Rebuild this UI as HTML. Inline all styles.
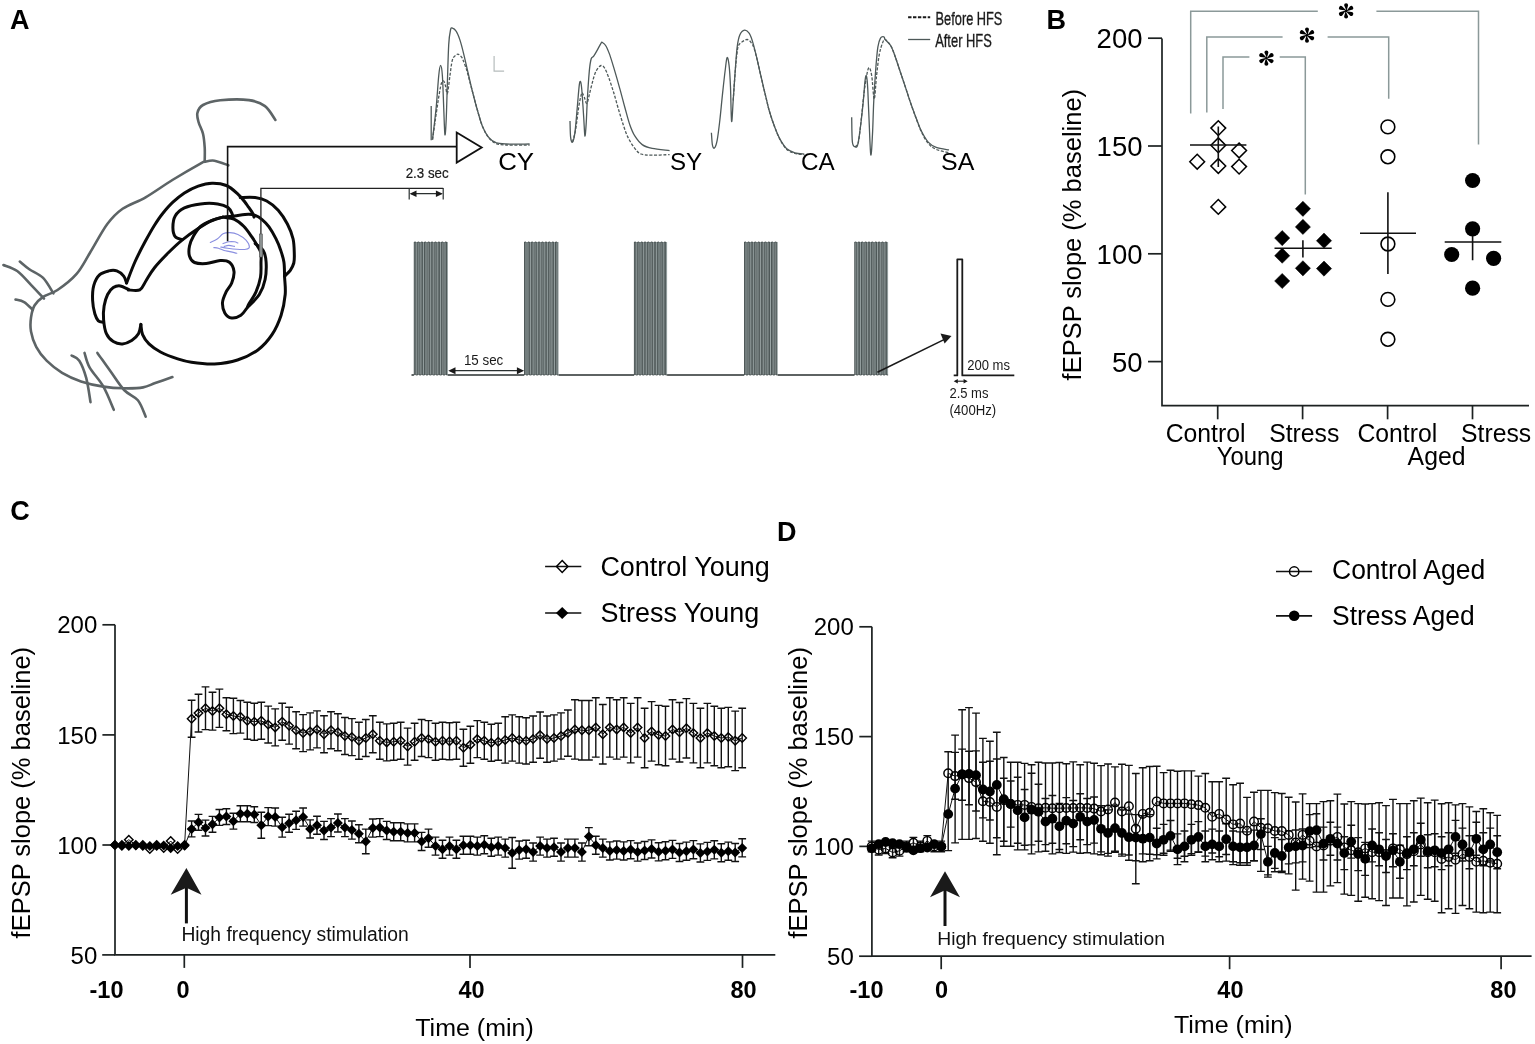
<!DOCTYPE html><html><head><meta charset="utf-8"><title>Figure</title><style>html,body{margin:0;padding:0;background:#fff;}svg{display:block;}text{font-family:"Liberation Sans",Arial,sans-serif;}</style></head><body>
<svg width="1535" height="1044" viewBox="0 0 1535 1044">
<rect width="1535" height="1044" fill="#fff"/>
<text x="10" y="28.9" font-size="27" font-weight="bold">A</text>
<text x="1046.4" y="28.9" font-size="27" font-weight="bold">B</text>
<text x="10.2" y="519.6" font-size="27" font-weight="bold">C</text>
<text x="777" y="541.2" font-size="27" font-weight="bold">D</text>
<path d="M204.7,161.3 C204.7,159 205,152.1 204.7,147.5 C204.4,142.9 204,137.9 203,133.7 C202,129.5 199.5,125.7 198.6,122.2 C197.7,118.8 196.7,115.9 197.4,113 C198.1,110.1 199.2,107.1 203,105 C206.8,102.9 212.5,101.1 220.2,100.3 C227.9,99.5 241.5,99.1 249,100.1 C256.5,101.1 260.6,102.8 265,106.1 C269.4,109.4 273.7,117.6 275.4,119.9" fill="none" stroke="#5d6466" stroke-width="2.6" stroke-linecap="round" stroke-linejoin="round"/>
<path d="M228.3,165.3 C226,164.5 218.4,161.3 214.5,160.7 C210.6,160.1 207.1,161.3 204.7,161.8 C202.3,162.3 205.4,160.8 200,163.8 C194.6,166.8 181.5,174.4 172.4,180 C163.3,185.6 153.9,192.5 145.6,197.3 C137.3,202.1 129,204.3 122.6,208.8 C116.2,213.3 112.7,216.8 107.3,224.1 C101.9,231.4 95.1,244.5 90,252.8 C84.9,261.1 82,267.7 76.6,273.9 C71.2,280.1 63.1,286.2 57.5,290 C51.9,293.8 46.9,294.3 43.1,296.9 C39.3,299.5 36.5,302.1 34.5,305.5 C32.5,308.9 31.6,313.3 31,317.6 C30.4,321.9 30.1,326.5 31,331.4 C31.9,336.3 33.6,342 36.2,346.9 C38.8,351.8 42.3,356.4 46.6,360.7 C50.9,365 56.4,369.4 62.1,372.8 C67.8,376.2 74.1,379.1 81,381.4 C87.9,383.7 96.2,385.5 103.4,386.6 C110.6,387.8 117.5,388.2 124.1,388.3 C130.7,388.4 137.9,388.3 143.1,387.4 C148.3,386.5 150.3,384.8 155.2,383.1 C160.1,381.4 169.5,378.1 172.4,377.1" fill="none" stroke="#5d6466" stroke-width="2.6" stroke-linecap="round" stroke-linejoin="round"/>
<path d="M3.4,265 C5.7,266 12.6,267.7 17.2,271 C21.8,274.3 26.5,280.2 31,284.8 C35.5,289.4 41.8,296.3 44,298.6" fill="none" stroke="#5d6466" stroke-width="2.6" stroke-linecap="round" stroke-linejoin="round"/>
<path d="M19.8,261.6 C21.4,262.9 25.4,266.6 29.3,269.3 C33.2,272 39.1,273.9 43.1,277.9 C47.1,281.9 51.7,290.8 53.4,293.4" fill="none" stroke="#5d6466" stroke-width="2.6" stroke-linecap="round" stroke-linejoin="round"/>
<path d="M15.5,299.5 C16.9,299.9 21.2,300.4 24.1,302.1 C27,303.8 31.3,308.5 32.8,309.8" fill="none" stroke="#5d6466" stroke-width="2.6" stroke-linecap="round" stroke-linejoin="round"/>
<path d="M71.6,355.5 C72.9,356.4 76.9,357 79.3,360.7 C81.7,364.4 84.3,371 86.2,377.9 C88.1,384.8 89.8,398.1 90.5,402.1" fill="none" stroke="#5d6466" stroke-width="2.6" stroke-linecap="round" stroke-linejoin="round"/>
<path d="M84.5,352.9 C85.4,355.3 86.5,362 89.7,367.6 C92.9,373.2 99.4,379.6 103.4,386.6 C107.4,393.6 112.1,405.9 113.8,409.8" fill="none" stroke="#5d6466" stroke-width="2.6" stroke-linecap="round" stroke-linejoin="round"/>
<path d="M97.4,352.9 C99.6,355.9 105.8,364.8 110.3,371 C114.8,377.2 119.5,385.1 124.1,390 C128.7,394.9 134.3,395.9 137.9,400.3 C141.5,404.8 144.4,414 145.7,416.7" fill="none" stroke="#5d6466" stroke-width="2.6" stroke-linecap="round" stroke-linejoin="round"/>
<path d="M126.6,283 C128,279.5 131.8,268.9 134.9,262 C138,255.1 142,247.4 145.3,241.3 C148.6,235.2 151.6,229.8 154.5,225.2 C157.4,220.6 159.4,217.5 162.5,213.7 C165.6,209.9 169.2,205.6 172.9,202.2 C176.6,198.8 180.2,195.7 184.4,193 C188.6,190.3 193.6,187.7 198.2,186.1 C202.8,184.5 207.3,183.3 212,183.2 C216.7,183.1 222.1,183.7 226.4,185.5 C230.7,187.3 234.9,191.4 237.9,194.1 C240.9,196.8 242.8,199.4 244.5,201.5 C246.2,203.6 246.9,204.8 248.3,206.8 C249.7,208.8 252,212 252.9,213.7 C253.8,215.4 253.8,216.5 254,217.1" fill="none" stroke="#0a0a0a" stroke-width="3.0" stroke-linecap="round" stroke-linejoin="round"/>
<path d="M126.6,283 C126.1,281.9 125.3,278.1 123.7,276.1 C122.1,274.1 119.3,271.8 116.8,270.9 C114.3,270 111.6,270.2 108.7,270.9 C105.8,271.6 102,272.5 99.5,274.9 C97,277.3 95,281.1 93.8,285.3 C92.6,289.5 92.4,295.4 92.6,300.2 C92.8,305 93.9,310.6 94.9,314 C95.9,317.4 97.2,319.5 98.4,320.9 C99.7,322.2 101.7,321.9 102.4,322.1" fill="none" stroke="#0a0a0a" stroke-width="3.0" stroke-linecap="round" stroke-linejoin="round"/>
<path d="M128.5,289.5 C127.1,288.9 122.7,286.2 120.2,285.9 C117.7,285.6 115.4,286.2 113.3,287.6 C111.2,289 109.1,291.4 107.6,294.5 C106.1,297.6 104.8,301.8 104.1,306 C103.4,310.2 103.2,315.2 103.6,319.8 C104,324.4 104.8,330 106.4,333.6 C108,337.2 110.6,339.9 113.3,341.6 C116,343.3 119.4,344.1 122.5,343.9 C125.6,343.7 129,342.2 131.7,340.5 C134.4,338.8 137.1,336.3 138.6,333.6 C140.1,330.9 140.5,325.9 140.9,324.4" fill="none" stroke="#0a0a0a" stroke-width="3.0" stroke-linecap="round" stroke-linejoin="round"/>
<path d="M140.9,324.4 C141.2,326.1 141.2,331.4 142.6,334.7 C143.9,337.9 146,341 149,343.9 C152,346.8 155.7,349.5 160.5,352 C165.3,354.5 172.5,357.2 177.7,358.9 C182.9,360.6 185.4,361.4 191.5,362.3 C197.6,363.2 206.8,364.4 214.5,364 C222.2,363.6 230.2,362.4 237.5,360 C244.8,357.6 252.4,353.9 258.2,349.7 C263.9,345.5 268.2,340.4 272,334.7 C275.8,328.9 278.9,321.9 281.1,315.2 C283.3,308.5 284.6,300.8 285.2,294.5 C285.8,288.2 284.8,282.6 284.6,277.2 C284.4,271.8 284.6,266.6 283.9,262 C283.2,257.4 281.8,253.6 280.5,249.7 C279.2,245.8 277.8,242.5 275.9,238.7 C274,234.9 271.3,230.1 269,226.9 C266.7,223.7 264.4,221.5 262.1,219.6 C259.8,217.7 257.5,216.3 255.2,215.4 C252.9,214.5 251.8,214.2 248.3,214.3 C244.9,214.4 238.7,215.5 234.5,216 C230.3,216.5 226.8,216.3 223,217.1 C219.2,217.9 215.6,218.7 211.5,220.6 C207.4,222.5 203.1,225.3 198.2,228.6 C193.3,231.8 187.1,236.1 182.1,240.1 C177.1,244.1 172.9,248.2 168.3,252.8 C163.7,257.4 158.2,263.1 154.5,267.7 C150.8,272.3 148.4,277 146,280.7 C143.6,284.4 142.8,288.4 139.8,289.9 C136.9,291.4 130.2,289.9 128.3,289.9" fill="none" stroke="#0a0a0a" stroke-width="3.0" stroke-linecap="round" stroke-linejoin="round"/>
<path d="M182.1,239.5 C180.9,239 176.7,238.7 175.2,236.7 C173.7,234.7 172.9,230.9 172.9,227.5 C172.9,224.1 173.3,219.3 175.2,216 C177.1,212.7 180.2,209.9 184.4,207.9 C188.6,205.9 194.9,204.6 200.5,203.9 C206.1,203.2 213.1,203.3 217.7,203.9 C222.3,204.5 225.6,205.8 228,207.5 C230.4,209.2 231.4,212.2 232.2,214 C233,215.8 232.9,217.3 233,218" fill="none" stroke="#0a0a0a" stroke-width="3.0" stroke-linecap="round" stroke-linejoin="round"/>
<path d="M240.2,197.6 C242.7,197.6 250.8,197 255.2,197.6 C259.6,198.2 262.9,198.9 266.7,201 C270.5,203.1 274.8,206.4 278.2,210.2 C281.6,214 284.9,219.2 287.4,224 C289.9,228.8 292,234 293.1,239 C294.2,244 294.2,249.9 294.3,253.9 C294.4,257.9 294.5,260.3 293.8,263 C293.1,265.7 291.8,268.1 290.3,270.3 C288.8,272.5 285.6,275.1 284.6,276.1" fill="none" stroke="#0a0a0a" stroke-width="3.0" stroke-linecap="round" stroke-linejoin="round"/>
<path d="M223,217.1 C221.2,217.7 215.8,218.9 212,220.5 C208.2,222.1 203.6,223.9 200.5,226.5 C197.4,229.1 195.3,232.8 193.5,236 C191.7,239.2 190.2,242.6 189.5,246 C188.8,249.4 188.7,253.4 189.5,256.2 C190.3,258.9 191.7,261.3 194.5,262.5 C197.3,263.7 201.9,263.9 206.2,263.6 C210.5,263.3 216.3,260.8 220.2,260.6 C224.1,260.4 227.1,260.5 229.4,262.3 C231.7,264.1 233.6,268.1 234,271.5 C234.4,274.9 233,279.6 231.7,283 C230.4,286.4 227.5,288.9 226,292.2 C224.5,295.4 222.7,299.1 222.5,302.5 C222.3,305.9 223.3,310.3 224.8,312.9 C226.3,315.5 229,317.6 231.7,318 C234.4,318.4 238.4,316.8 240.9,315.2 C243.4,313.6 245.3,310.2 246.7,308.3 C248,306.4 247.5,306.4 249,303.7 C250.5,301 254,296.6 255.9,292.2 C257.8,287.8 259.6,282.2 260.5,277.2 C261.4,272.2 260.9,266.1 261,262 C261.1,257.9 261.5,255.5 260.9,252.8 C260.3,250.1 259,248.6 257.5,245.9 C256,243.2 254,240 251.7,236.7 C249.4,233.4 246.6,229.2 243.7,226.3 C240.8,223.4 237.9,220.9 234.5,219.4 C231.1,217.9 224.9,217.5 223,217.1" fill="none" stroke="#0a0a0a" stroke-width="3.0" stroke-linecap="round" stroke-linejoin="round"/>
<path d="M247.8,307.1 C249.7,305 256.4,299.1 259.3,294.5 C262.2,289.9 264,284.9 265.1,279.5 C266.2,274.1 266.4,266.8 266.1,262 C265.8,257.2 265,253.6 263.2,250.5 C261.4,247.4 256.5,244.8 255.2,243.6" fill="none" stroke="#0a0a0a" stroke-width="3.0" stroke-linecap="round" stroke-linejoin="round"/>
<path d="M210.3,242.4 C211.5,241.8 215.1,240.4 217.2,239 C219.3,237.6 220.9,234.9 223,233.8 C225.1,232.7 227.4,232.5 229.9,232.6 C232.4,232.7 235.2,233.2 237.9,234.4 C240.6,235.7 244.1,238 246,240.1 C247.9,242.2 249.4,245.5 249.4,247 C249.4,248.5 248.1,248.9 246,249.3 C243.9,249.7 239.9,249.5 236.8,249.3 C233.7,249.1 230.3,248.6 227.6,248.2 C224.9,247.8 221.8,247.2 220.7,247" fill="none" stroke="#8a8fe0" stroke-width="1.1" stroke-linecap="round"/>
<path d="M213.8,247.6 C214.6,247.7 216.7,247.7 218.4,248.2 C220.1,248.7 222.2,249.9 224.1,250.5 C226,251.1 227.8,251.1 229.9,251.6 C232,252.1 235.7,253 236.8,253.3" fill="none" stroke="#8a8fe0" stroke-width="1.1" stroke-linecap="round"/>
<path d="M224.1,246.4 C224.9,246.2 227,245.4 228.7,245.4 C230.4,245.4 233.5,246.2 234.5,246.4" fill="none" stroke="#8a8fe0" stroke-width="1.1" stroke-linecap="round"/>
<path d="M223,243.6 C223.9,243.3 226.8,242.1 228.7,241.8 C230.6,241.5 233,241.6 234.5,241.8 C236,242 237.3,242.8 237.9,243" fill="none" stroke="#8a8fe0" stroke-width="1.1" stroke-linecap="round"/>
<path d="M227.6,241.3 V146.6 H470" fill="none" stroke="#111" stroke-width="1.6"/>
<path d="M260.9,234 V188.3 H443.2" fill="none" stroke="#222" stroke-width="1.3"/>
<rect x="259.4" y="234" width="3" height="23" fill="#8a9090" stroke="#555" stroke-width="0.6"/>
<path d="M456.7,132.5 L481.7,147.6 L456.7,162.6 Z" fill="#fff" stroke="#111" stroke-width="1.8" stroke-linejoin="miter"/>
<path d="M431.2,106 C431.2,111.7 431.2,134.5 431.2,140.2" fill="none" stroke="#4e5959" stroke-width="1.3" stroke-linejoin="round"/>
<path d="M432.5,139.6 C433.1,134.2 435.2,117.8 436.2,107.2 C437.2,96.6 438,83 438.7,76 C439.4,69 440,65.5 440.6,65.5 C441.2,65.5 441.9,69 442.4,76 C442.9,83 443.3,97.4 443.7,107.2 C444.1,117 444.5,132.5 444.9,134.6 C445.3,136.7 445.8,128.4 446.2,119.7 C446.6,111 447,94.8 447.4,82.3 C447.8,69.8 448.2,53.6 448.7,44.9 C449.2,36.2 449.9,32.8 450.5,30 C451.1,27.2 451.5,27.9 452.4,28.1 C453.3,28.3 454.9,29.2 456.1,31.2 C457.4,33.2 458.6,36.2 459.9,39.9 C461.1,43.6 462.4,48.6 463.6,53.6 C464.9,58.6 465.9,63.6 467.4,69.8 C468.8,76 470.6,84.3 472.3,91 C474,97.7 475.6,103.9 477.3,109.7 C479,115.5 480.4,121.3 482.3,125.9 C484.2,130.5 486.2,134.3 488.5,137.1 C490.8,139.9 493.1,141.5 496,142.7 C498.9,143.8 500.4,143.8 506,144 C511.6,144.2 525.7,144 529.6,144" fill="none" stroke="#4e5959" stroke-width="1.3" stroke-linejoin="round"/>
<path d="M432.5,139.6 C432.9,136.7 434.1,128.6 435,122.2 C435.9,115.8 437.1,107.4 438.1,101 C439.1,94.6 440.3,87.3 441.2,84 C442.1,80.7 443,80.7 443.7,81 C444.4,81.3 444.9,83.9 445.5,86 C446.1,88.1 446.7,95.2 447.4,93.5 C448.1,91.8 449.1,81.6 449.9,76 C450.7,70.4 451.4,63.4 452.4,59.9 C453.4,56.4 455.1,55.8 456.1,54.9 C457.1,54 457.7,53.9 458.6,54.3 C459.6,54.7 461.1,56.5 461.8,57.4 C462.5,58.3 462.5,58.7 463,59.9 C463.5,61.1 464.2,62.7 464.9,64.8 C465.6,66.9 466.2,68.1 467.4,72.5 C468.6,76.9 470.6,84.8 472.3,91 C474,97.2 475.6,103.9 477.3,109.7 C479,115.5 480.4,121.3 482.3,125.9 C484.2,130.5 486.2,134.6 488.5,137.5 C490.8,140.4 493.1,142.2 496,143.5 C498.9,144.8 500.4,144.7 506,145 C511.6,145.3 525.7,145.2 529.6,145.2" fill="none" stroke="#4e5959" stroke-width="1.3" stroke-dasharray="3,1.6" stroke-linejoin="round"/>
<path d="M494.1,56.1 V71.1 H504.1" fill="none" stroke="#b5bcbc" stroke-width="1.2"/>
<path d="M570,120.9 C570.1,123.6 570.2,133.6 570.6,137.1 C571,140.6 571.8,142.9 572.5,142.1 C573.2,141.3 574.2,138.4 575,132.2 C575.8,126 576.8,112.6 577.5,104.7 C578.2,96.8 578.8,88.6 579.3,84.8 C579.8,81 580.2,80.9 580.6,81.7 C581,82.5 581.3,83.9 581.8,89.8 C582.3,95.7 583.2,109.5 583.7,117.2 C584.2,124.9 584.5,134.9 584.9,135.9 C585.3,136.9 585.8,129.6 586.2,123.4 C586.6,117.2 586.9,107.2 587.4,98.5 C587.9,89.8 588.7,77.7 589.3,71.1 C589.9,64.5 590.5,61.2 591.2,58.7 C591.9,56.2 592.7,57.7 593.7,56.2 C594.7,54.7 596.2,52.1 597.4,49.9 C598.6,47.7 600.3,44.3 601.1,43.1 C601.9,41.9 601.6,42 602.4,42.5 C603.2,43 604.9,44.1 606.1,46.2 C607.3,48.3 608.3,50.8 609.8,54.9 C611.2,59 613.1,65.5 614.8,71.1 C616.5,76.7 618.1,82.6 619.8,88.6 C621.5,94.6 623.1,101.2 624.8,107.2 C626.5,113.2 628.1,119.9 629.8,124.7 C631.5,129.5 632.7,132.6 634.8,135.9 C636.9,139.2 639.3,142.5 642.2,144.6 C645.1,146.7 647.6,147.4 652.2,148.4 C656.8,149.4 666.7,150.2 669.6,150.6" fill="none" stroke="#4e5959" stroke-width="1.3" stroke-linejoin="round"/>
<path d="M572.5,142.1 C573,140 574.6,135.5 575.6,129.7 C576.6,123.9 577.8,113 578.7,107.2 C579.6,101.4 580.6,97.2 581.2,94.8 C581.8,92.4 581.9,92.5 582.4,92.9 C582.9,93.3 583.6,95.5 584.3,97.3 C585,99.1 586,103.9 586.8,103.5 C587.6,103.1 588.4,98.3 589.3,94.8 C590.2,91.3 591.3,86.2 592.4,82.3 C593.5,78.3 594.6,73.9 596.1,71.1 C597.6,68.3 599.6,65.9 601.1,65.5 C602.6,65.1 603.6,66.6 604.9,68.6 C606.1,70.6 607.1,73.3 608.6,77.3 C610.1,81.2 611.9,86.9 613.6,92.3 C615.3,97.7 616.9,104.1 618.6,109.7 C620.3,115.3 622,121.1 623.6,125.9 C625.2,130.7 626.6,134.7 628.5,138.4 C630.4,142.2 632.7,145.8 634.8,148.4 C636.9,151 638.1,152.9 641,154 C643.9,155.1 647.4,155.1 652.2,155.2 C657,155.3 666.7,154.7 669.6,154.6" fill="none" stroke="#4e5959" stroke-width="1.3" stroke-dasharray="3,1.6" stroke-linejoin="round"/>
<path d="M711.4,132.7 C711.6,134.7 711.9,142.2 712.4,144.8 C712.9,147.4 713.6,148.8 714.4,148.1 C715.2,147.4 716.2,145.3 717.1,140.7 C718,136.1 718.9,128.2 719.8,120.6 C720.7,113 721.5,103.4 722.4,95.1 C723.3,86.8 724.3,77.2 725.1,71 C725.9,64.8 726.4,58.5 727.1,57.6 C727.8,56.7 728.5,60.7 729.1,65.6 C729.7,70.5 730.1,77.8 730.5,87.1 C730.9,96.4 731.1,119.1 731.6,121.3 C732.1,123.5 732.6,108.9 733.2,100.5 C733.8,92.1 734.5,80 735.2,71 C735.9,62 736.4,52.8 737.2,46.8 C738,40.8 738.7,37.6 739.9,34.8 C741.1,32 743,30.3 744.6,30.1 C746.2,29.9 747.8,31.1 749.3,33.4 C750.8,35.7 752,39.6 753.3,44.1 C754.6,48.6 756,54.6 757.3,60.2 C758.6,65.8 759.9,71.9 761.3,77.7 C762.6,83.5 764,89.5 765.4,95.1 C766.8,100.7 767.8,105.8 769.4,111.2 C771,116.6 773,122.6 774.8,127.3 C776.6,132 778.1,135.8 780.1,139.4 C782.1,143 784.3,146.6 786.8,148.8 C789.3,151 792,151.9 794.9,152.8 C797.8,153.7 802.7,153.9 804.3,154.1" fill="none" stroke="#4e5959" stroke-width="1.3" stroke-linejoin="round"/>
<path d="M733.2,100.5 C733.5,95.8 734.6,79.6 735.2,72 C735.8,64.4 736.2,59.4 736.8,55 C737.3,50.6 737.5,47.8 738.5,45.5 C739.5,43.2 741.1,42.5 742.6,41.5 C744.1,40.5 745.8,39.3 747.3,39.5 C748.8,39.7 750.2,41.3 751.3,42.8 C752.4,44.2 753,45.3 754,48.2 C755,51.1 756.1,55.3 757.3,60.2 C758.5,65.1 759.9,71.9 761.3,77.7 C762.6,83.5 764,89.5 765.4,95.1 C766.8,100.7 767.8,105.8 769.4,111.2 C771,116.6 773,122.5 774.8,127.3 C776.6,132.1 778.1,136.1 780.1,139.8 C782.1,143.5 784.3,147.1 786.8,149.4 C789.3,151.7 792,152.6 794.9,153.5 C797.8,154.4 802.7,154.4 804.3,154.6" fill="none" stroke="#4e5959" stroke-width="1.3" stroke-dasharray="3,1.6" stroke-linejoin="round"/>
<path d="M851.7,117.3 C851.8,121.4 851.8,137.2 852.4,142.1 C853,147 854.2,146.4 855.1,146.8 C856,147.2 856.8,148.1 857.7,144.8 C858.6,141.6 859.5,134.2 860.4,127.3 C861.3,120.4 862.3,111 863.1,103.2 C863.9,95.4 864.5,84.9 865.1,80.4 C865.7,75.9 866,74.7 866.5,76.3 C867,77.9 867.4,82.4 867.8,89.8 C868.2,97.2 868.6,109.8 869.1,120.6 C869.6,131.4 870.2,152.6 870.8,154.8 C871.4,157 872,143.1 872.5,134 C873,125 873.2,111.7 873.8,100.5 C874.4,89.3 875.2,76 875.9,67 C876.6,58 877.1,51.6 877.9,46.8 C878.7,42 879.5,39.8 880.5,38.1 C881.5,36.4 883.1,36.6 883.9,36.8 C884.7,37 884.1,38 885.2,39.5 C886.3,41 889,42.9 890.6,45.5 C892.2,48.1 893,50.6 894.6,54.9 C896.2,59.1 898.2,65.6 900,71 C901.8,76.4 903.6,81.7 905.4,87.1 C907.2,92.5 908.9,98.1 910.7,103.2 C912.5,108.3 914.3,113.2 916.1,117.9 C917.9,122.6 919.5,127.3 921.5,131.3 C923.5,135.3 925.8,139.4 928.2,142.1 C930.7,144.8 932.7,146.1 936.2,147.4 C939.7,148.7 946.9,149.5 949,149.9" fill="none" stroke="#4e5959" stroke-width="1.3" stroke-linejoin="round"/>
<path d="M855.1,146.8 C855.6,146 857.4,146.5 858.4,142.1 C859.4,137.7 860.2,128.4 861.1,120.6 C862,112.8 862.9,102.5 863.8,95.1 C864.7,87.7 865.6,80.9 866.5,76.3 C867.4,71.7 868.2,67.6 869.1,67.6 C870,67.6 870.9,71 871.8,76.3 C872.6,81.5 873.4,99.1 874.2,99.1 C875,99.1 875.7,83.7 876.5,76.3 C877.3,68.9 878.2,60.5 879.2,54.9 C880.2,49.3 881.6,45.4 882.6,42.8 C883.6,40.2 883.9,39 885.2,39.5 C886.5,40 889,42.9 890.6,45.5 C892.2,48.1 893,50.6 894.6,54.9 C896.2,59.1 898.2,65.6 900,71 C901.8,76.4 903.6,81.7 905.4,87.1 C907.2,92.5 908.9,98 910.7,103.2 C912.5,108.4 914.3,113.5 916.1,118.3 C917.9,123.1 919.5,127.8 921.5,132 C923.5,136.2 925.8,140.6 928.2,143.5 C930.7,146.4 932.7,147.8 936.2,149.4 C939.7,151 946.9,152.2 949,152.8" fill="none" stroke="#4e5959" stroke-width="1.3" stroke-dasharray="3,1.6" stroke-linejoin="round"/>
<path d="M908.1,17.3 H930.2" stroke="#1a1a1a" stroke-width="1.9" stroke-dasharray="3.4,1.5"/>
<path d="M908.1,39.5 H930.2" stroke="#4e5959" stroke-width="1.3"/>
<text x="935.6" y="24.6" font-size="18.6" fill="#1a1a1a" textLength="66.8" lengthAdjust="spacingAndGlyphs" stroke="#1a1a1a" stroke-width="0.35">Before HFS</text>
<text x="935.2" y="46.6" font-size="18.6" fill="#1a1a1a" textLength="56.6" lengthAdjust="spacingAndGlyphs" stroke="#1a1a1a" stroke-width="0.35">After HFS</text>
<text x="498.2" y="170.4" font-size="24.6" textLength="35.9" lengthAdjust="spacingAndGlyphs">CY</text>
<text x="670" y="170.4" font-size="24.6" textLength="32.2" lengthAdjust="spacingAndGlyphs">SY</text>
<text x="801" y="170.4" font-size="24.6" textLength="33.7" lengthAdjust="spacingAndGlyphs">CA</text>
<text x="941" y="170.4" font-size="24.6" textLength="33.3" lengthAdjust="spacingAndGlyphs">SA</text>
<rect x="413.9" y="242" width="34.1" height="133" fill="#9aa5a5"/>
<path d="M413.9,375 L414.3,375 L414.3,242 L415.8,242 L415.8,375 L417.7,375 L417.7,242 L419.2,242 L419.2,375 L421.1,375 L421.1,242 L422.6,242 L422.6,375 L424.5,375 L424.5,242 L426,242 L426,375 L427.9,375 L427.9,242 L429.4,242 L429.4,375 L431.3,375 L431.3,242 L432.8,242 L432.8,375 L434.8,375 L434.8,242 L436.2,242 L436.2,375 L438.2,375 L438.2,242 L439.6,242 L439.6,375 L441.6,375 L441.6,242 L443.1,242 L443.1,375 L445,375 L445,242 L446.5,242 L446.5,375 L448,375" fill="none" stroke="#3b4444" stroke-width="0.8"/>
<rect x="524.1" y="242" width="34.5" height="133" fill="#9aa5a5"/>
<path d="M524.1,375 L524.5,375 L524.5,242 L526,242 L526,375 L528,375 L528,242 L529.4,242 L529.4,375 L531.4,375 L531.4,242 L532.9,242 L532.9,375 L534.9,375 L534.9,242 L536.3,242 L536.3,375 L538.3,375 L538.3,242 L539.8,242 L539.8,375 L541.8,375 L541.8,242 L543.2,242 L543.2,375 L545.2,375 L545.2,242 L546.7,242 L546.7,375 L548.6,375 L548.6,242 L550.1,242 L550.1,375 L552.1,375 L552.1,242 L553.6,242 L553.6,375 L555.5,375 L555.5,242 L557,242 L557,375 L558.6,375" fill="none" stroke="#3b4444" stroke-width="0.8"/>
<rect x="634" y="242" width="33.1" height="133" fill="#9aa5a5"/>
<path d="M634,375 L634.4,375 L634.4,242 L635.8,242 L635.8,375 L637.7,375 L637.7,242 L639.1,242 L639.1,375 L641,375 L641,242 L642.4,242 L642.4,375 L644.3,375 L644.3,242 L645.8,242 L645.8,375 L647.6,375 L647.6,242 L649.1,242 L649.1,375 L650.9,375 L650.9,242 L652.4,242 L652.4,375 L654.3,375 L654.3,242 L655.7,242 L655.7,375 L657.6,375 L657.6,242 L659,242 L659,375 L660.9,375 L660.9,242 L662.3,242 L662.3,375 L664.2,375 L664.2,242 L665.6,242 L665.6,375 L667.1,375" fill="none" stroke="#3b4444" stroke-width="0.8"/>
<rect x="744.1" y="242" width="33.7" height="133" fill="#9aa5a5"/>
<path d="M744.1,375 L744.5,375 L744.5,242 L746,242 L746,375 L747.9,375 L747.9,242 L749.3,242 L749.3,375 L751.2,375 L751.2,242 L752.7,242 L752.7,375 L754.6,375 L754.6,242 L756.1,242 L756.1,375 L758,375 L758,242 L759.4,242 L759.4,375 L761.4,375 L761.4,242 L762.8,242 L762.8,375 L764.7,375 L764.7,242 L766.2,242 L766.2,375 L768.1,375 L768.1,242 L769.5,242 L769.5,375 L771.5,375 L771.5,242 L772.9,242 L772.9,375 L774.8,375 L774.8,242 L776.3,242 L776.3,375 L777.8,375" fill="none" stroke="#3b4444" stroke-width="0.8"/>
<rect x="854.4" y="242" width="33.7" height="133" fill="#9aa5a5"/>
<path d="M854.4,375 L854.8,375 L854.8,242 L856.3,242 L856.3,375 L858.2,375 L858.2,242 L859.6,242 L859.6,375 L861.5,375 L861.5,242 L863,242 L863,375 L864.9,375 L864.9,242 L866.4,242 L866.4,375 L868.3,375 L868.3,242 L869.7,242 L869.7,375 L871.6,375 L871.6,242 L873.1,242 L873.1,375 L875,375 L875,242 L876.5,242 L876.5,375 L878.4,375 L878.4,242 L879.8,242 L879.8,375 L881.8,375 L881.8,242 L883.2,242 L883.2,375 L885.1,375 L885.1,242 L886.6,242 L886.6,375 L888.1,375" fill="none" stroke="#3b4444" stroke-width="0.8"/>
<path d="M411.5,375 H413.9 M448,375 H524.1 M558.6,375 H634 M667.1,375 H744.1 M777.8,375 H854.4" stroke="#2a3030" stroke-width="1.5"/>
<path d="M450,370.7 H522" stroke="#2a3030" stroke-width="1.2"/>
<path d="M448.3,370.7 L455.5,367.2 L455.5,374.2 Z M524.1,370.7 L516.9,367.2 L516.9,374.2 Z" fill="#1a1a1a"/>
<text x="463.9" y="365.4" font-size="14.5" fill="#1a1a1a" textLength="39.4" lengthAdjust="spacingAndGlyphs">15 sec</text>
<path d="M409.2,188 V199.4 M443.2,188 V199.4 M411,193.7 H441.5" stroke="#2a3030" stroke-width="1.2"/>
<path d="M409.6,193.7 L416.5,190.4 L416.5,197 Z M442.8,193.7 L435.9,190.4 L435.9,197 Z" fill="#1a1a1a"/>
<text x="405.7" y="178.2" font-size="15" fill="#1a1a1a" textLength="43" lengthAdjust="spacingAndGlyphs" stroke="#1a1a1a" stroke-width="0.2">2.3 sec</text>
<path d="M953.7,375.4 H957.3 V259.3 H962.3 V375.4 H1014.3" fill="none" stroke="#1a1a1a" stroke-width="1.8" stroke-linejoin="round"/>
<path d="M877.4,372.2 L944,339.6" stroke="#1a1a1a" stroke-width="1.6"/>
<path d="M951.5,336.1 L940.5,333.6 L944.6,343.6 Z" fill="#1a1a1a"/>
<text x="967.2" y="369.8" font-size="14.5" fill="#1a1a1a" textLength="42.8" lengthAdjust="spacingAndGlyphs">200 ms</text>
<path d="M955.5,381.2 H966" stroke="#1a1a1a" stroke-width="1.1"/>
<path d="M953.7,381.2 L957.8,378.9 L957.8,383.5 Z M967.7,381.2 L963.6,378.9 L963.6,383.5 Z" fill="#1a1a1a"/>
<text x="949.4" y="398" font-size="14.5" fill="#1a1a1a" textLength="39.1" lengthAdjust="spacingAndGlyphs">2.5 ms</text>
<text x="949.4" y="414.5" font-size="14.5" fill="#1a1a1a" textLength="46.8" lengthAdjust="spacingAndGlyphs">(400Hz)</text>
<path d="M1162,38.6 V405.6 H1529" fill="none" stroke="#1c2121" stroke-width="1.7"/>
<path d="M1148,38.2 H1162" stroke="#1c2121" stroke-width="1.7"/>
<text x="1142.5" y="48.1" font-size="27.5" text-anchor="end">200</text>
<path d="M1148,146 H1162" stroke="#1c2121" stroke-width="1.7"/>
<text x="1142.5" y="155.9" font-size="27.5" text-anchor="end">150</text>
<path d="M1148,253.8 H1162" stroke="#1c2121" stroke-width="1.7"/>
<text x="1142.5" y="263.7" font-size="27.5" text-anchor="end">100</text>
<path d="M1148,361.6 H1162" stroke="#1c2121" stroke-width="1.7"/>
<text x="1142.5" y="371.5" font-size="27.5" text-anchor="end">50</text>
<path d="M1217.7,405.6 V419.3" stroke="#1c2121" stroke-width="1.7"/>
<path d="M1302.6,405.6 V419.3" stroke="#1c2121" stroke-width="1.7"/>
<path d="M1387.6,405.6 V419.3" stroke="#1c2121" stroke-width="1.7"/>
<path d="M1472.5,405.6 V419.3" stroke="#1c2121" stroke-width="1.7"/>
<text x="1165.7" y="441.6" font-size="25" textLength="79.8" lengthAdjust="spacingAndGlyphs">Control</text>
<text x="1269.2" y="441.6" font-size="25" textLength="70.2" lengthAdjust="spacingAndGlyphs">Stress</text>
<text x="1357.4" y="441.6" font-size="25" textLength="79.8" lengthAdjust="spacingAndGlyphs">Control</text>
<text x="1461.1" y="441.6" font-size="25" textLength="70.1" lengthAdjust="spacingAndGlyphs">Stress</text>
<text x="1216.7" y="464.8" font-size="25" textLength="66.9" lengthAdjust="spacingAndGlyphs">Young</text>
<text x="1407.6" y="464.8" font-size="25" textLength="57.9" lengthAdjust="spacingAndGlyphs">Aged</text>
<text transform="translate(1080.9,380.4) rotate(-90)" font-size="25" textLength="291.5" lengthAdjust="spacingAndGlyphs">fEPSP slope (% baseline)</text>
<path d="M1190.7,113.4 V11.3 H1317.8 M1376.4,11.3 H1478.5 V144.4 M1206.8,112.4 V37.1 H1282.6 M1327.6,37.1 H1388.7 V98.7 M1223,109 V57.1 H1249.4 M1279.7,57.1 H1305.3 V194.5" fill="none" stroke="#8b9999" stroke-width="1.5"/>
<path d="M1346.6,10.9 L1348.1,5.3 A2,2 0 1 0 1344.1,5.3 Z M1346.3,10.5 L1342.3,6.4 A2,2 0 1 0 1340.3,9.8 Z M1345.8,10.5 L1340.3,12 A2,2 0 1 0 1342.3,15.4 Z M1345.6,10.9 L1344.1,16.5 A2,2 0 1 0 1348.1,16.5 Z M1345.8,11.3 L1349.9,15.4 A2,2 0 1 0 1351.9,12 Z M1346.3,11.3 L1351.9,9.8 A2,2 0 1 0 1349.9,6.4 Z " fill="#000"/>
<circle cx="1346.1" cy="10.9" r="1.2" fill="#000"/>
<path d="M1307.5,35.2 L1309,29.6 A2,2 0 1 0 1305,29.6 Z M1307.2,34.8 L1303.2,30.7 A2,2 0 1 0 1301.2,34.1 Z M1306.8,34.8 L1301.2,36.3 A2,2 0 1 0 1303.2,39.7 Z M1306.5,35.2 L1305,40.8 A2,2 0 1 0 1309,40.8 Z M1306.8,35.6 L1310.8,39.7 A2,2 0 1 0 1312.8,36.3 Z M1307.2,35.6 L1312.8,34.1 A2,2 0 1 0 1310.8,30.7 Z " fill="#000"/>
<circle cx="1307" cy="35.2" r="1.2" fill="#000"/>
<path d="M1266.9,58.1 L1268.4,52.5 A2,2 0 1 0 1264.4,52.5 Z M1266.7,57.7 L1262.6,53.6 A2,2 0 1 0 1260.6,57 Z M1266.2,57.7 L1260.6,59.2 A2,2 0 1 0 1262.6,62.6 Z M1265.9,58.1 L1264.4,63.7 A2,2 0 1 0 1268.4,63.7 Z M1266.2,58.5 L1270.2,62.6 A2,2 0 1 0 1272.2,59.2 Z M1266.7,58.5 L1272.2,57 A2,2 0 1 0 1270.2,53.6 Z " fill="#000"/>
<circle cx="1266.4" cy="58.1" r="1.2" fill="#000"/>
<path d="M1218.3,120.7 L1225.7,128.1 L1218.3,135.5 L1210.9,128.1 Z" fill="none" stroke="#000" stroke-width="1.5"/>
<path d="M1218.3,137.9 L1225.7,145.3 L1218.3,152.7 L1210.9,145.3 Z" fill="none" stroke="#000" stroke-width="1.5"/>
<path d="M1239.1,143.1 L1246.5,150.5 L1239.1,157.9 L1231.7,150.5 Z" fill="none" stroke="#000" stroke-width="1.5"/>
<path d="M1197.2,154.3 L1204.6,161.7 L1197.2,169.1 L1189.8,161.7 Z" fill="none" stroke="#000" stroke-width="1.5"/>
<path d="M1218.3,158.6 L1225.7,166 L1218.3,173.4 L1210.9,166 Z" fill="none" stroke="#000" stroke-width="1.5"/>
<path d="M1239.1,159.2 L1246.5,166.6 L1239.1,174 L1231.7,166.6 Z" fill="none" stroke="#000" stroke-width="1.5"/>
<path d="M1218.3,199.5 L1225.7,206.9 L1218.3,214.3 L1210.9,206.9 Z" fill="none" stroke="#000" stroke-width="1.5"/>
<path d="M1190,145 H1246.4 M1218.3,126.4 V166.9" stroke="#111" stroke-width="1.6"/>
<path d="M1302.9,201.2 L1310.5,208.8 L1302.9,216.4 L1295.3,208.8 Z" fill="#000" stroke="#000" stroke-width="0.5"/>
<path d="M1302.9,219.3 L1310.5,226.9 L1302.9,234.5 L1295.3,226.9 Z" fill="#000" stroke="#000" stroke-width="0.5"/>
<path d="M1282.2,230.5 L1289.8,238.1 L1282.2,245.7 L1274.6,238.1 Z" fill="#000" stroke="#000" stroke-width="0.5"/>
<path d="M1324,233.1 L1331.6,240.7 L1324,248.3 L1316.4,240.7 Z" fill="#000" stroke="#000" stroke-width="0.5"/>
<path d="M1282.2,248.1 L1289.8,255.7 L1282.2,263.3 L1274.6,255.7 Z" fill="#000" stroke="#000" stroke-width="0.5"/>
<path d="M1302.9,260.7 L1310.5,268.3 L1302.9,275.9 L1295.3,268.3 Z" fill="#000" stroke="#000" stroke-width="0.5"/>
<path d="M1324,261 L1331.6,268.6 L1324,276.2 L1316.4,268.6 Z" fill="#000" stroke="#000" stroke-width="0.5"/>
<path d="M1282.2,273.4 L1289.8,281 L1282.2,288.6 L1274.6,281 Z" fill="#000" stroke="#000" stroke-width="0.5"/>
<path d="M1274.5,248.3 H1331.7 M1302.9,240.2 V257.4" stroke="#111" stroke-width="1.6"/>
<circle cx="1387.9" cy="126.9" r="6.9" fill="none" stroke="#000" stroke-width="1.6"/>
<circle cx="1387.9" cy="156.8" r="6.9" fill="none" stroke="#000" stroke-width="1.6"/>
<circle cx="1387.9" cy="244" r="6.9" fill="none" stroke="#000" stroke-width="1.6"/>
<circle cx="1387.9" cy="299.4" r="6.9" fill="none" stroke="#000" stroke-width="1.6"/>
<circle cx="1387.9" cy="339.3" r="6.9" fill="none" stroke="#000" stroke-width="1.6"/>
<path d="M1360,233.3 H1416 M1387.9,192.2 V274" stroke="#111" stroke-width="1.6"/>
<circle cx="1472.6" cy="180.5" r="7.6" fill="#000"/>
<circle cx="1472.6" cy="228.8" r="7.6" fill="#000"/>
<circle cx="1451.7" cy="254.5" r="7.6" fill="#000"/>
<circle cx="1493.6" cy="258.3" r="7.6" fill="#000"/>
<circle cx="1472.6" cy="288.2" r="7.6" fill="#000"/>
<path d="M1444.7,242 H1501.3 M1472.6,235.8 V260.2" stroke="#111" stroke-width="1.6"/>
<path d="M115,624.8 V954.9 H775.3" fill="none" stroke="#1c2121" stroke-width="1.7"/>
<path d="M102.2,954.9 H115" stroke="#1c2121" stroke-width="1.7"/>
<path d="M102.4,624.8 H115" stroke="#1c2121" stroke-width="1.7"/>
<text x="97.3" y="633.4" font-size="24" text-anchor="end">200</text>
<path d="M102.4,734.9 H115" stroke="#1c2121" stroke-width="1.7"/>
<text x="97.3" y="743.5" font-size="24" text-anchor="end">150</text>
<path d="M102.4,845 H115" stroke="#1c2121" stroke-width="1.7"/>
<text x="97.3" y="853.6" font-size="24" text-anchor="end">100</text>
<text x="97.3" y="963.7" font-size="24" text-anchor="end">50</text>
<path d="M184.3,954.9 V967.9" stroke="#1c2121" stroke-width="1.7"/>
<path d="M470,954.9 V967.9" stroke="#1c2121" stroke-width="1.7"/>
<path d="M742.5,954.9 V967.9" stroke="#1c2121" stroke-width="1.7"/>
<text x="106.5" y="998.4" font-size="23.5" text-anchor="middle" font-weight="bold">-10</text>
<text x="183" y="998.4" font-size="23.5" text-anchor="middle" font-weight="bold">0</text>
<text x="471.5" y="998.4" font-size="23.5" text-anchor="middle" font-weight="bold">40</text>
<text x="743.5" y="998.4" font-size="23.5" text-anchor="middle" font-weight="bold">80</text>
<path d="M871.9,626.8 V956.2 H1531.6" fill="none" stroke="#1c2121" stroke-width="1.7"/>
<path d="M859.1,956.2 H871.9" stroke="#1c2121" stroke-width="1.7"/>
<path d="M859.3,626.8 H871.9" stroke="#1c2121" stroke-width="1.7"/>
<text x="853.8" y="635.4" font-size="24" text-anchor="end">200</text>
<path d="M859.3,736.6 H871.9" stroke="#1c2121" stroke-width="1.7"/>
<text x="853.8" y="745.2" font-size="24" text-anchor="end">150</text>
<path d="M859.3,846.4 H871.9" stroke="#1c2121" stroke-width="1.7"/>
<text x="853.8" y="855" font-size="24" text-anchor="end">100</text>
<text x="853.8" y="964.8" font-size="24" text-anchor="end">50</text>
<path d="M941.2,956.2 V969.2" stroke="#1c2121" stroke-width="1.7"/>
<path d="M1229.6,956.2 V969.2" stroke="#1c2121" stroke-width="1.7"/>
<path d="M1501.1,956.2 V969.2" stroke="#1c2121" stroke-width="1.7"/>
<text x="866.5" y="997.8" font-size="23.5" text-anchor="middle" font-weight="bold">-10</text>
<text x="941.5" y="997.8" font-size="23.5" text-anchor="middle" font-weight="bold">0</text>
<text x="1230.4" y="997.8" font-size="23.5" text-anchor="middle" font-weight="bold">40</text>
<text x="1503.4" y="997.8" font-size="23.5" text-anchor="middle" font-weight="bold">80</text>
<text transform="translate(29.9,938.4) rotate(-90)" font-size="25" textLength="291.5" lengthAdjust="spacingAndGlyphs">fEPSP slope (% baseline)</text>
<text transform="translate(806.8,938.6) rotate(-90)" font-size="25" textLength="291.5" lengthAdjust="spacingAndGlyphs">fEPSP slope (% baseline)</text>
<text x="474.5" y="1035.9" font-size="24.8" text-anchor="middle" textLength="118.5" lengthAdjust="spacingAndGlyphs">Time (min)</text>
<text x="1233.3" y="1032.5" font-size="24.8" text-anchor="middle" textLength="118.7" lengthAdjust="spacingAndGlyphs">Time (min)</text>
<path d="M186.4,886.7 V923.4" stroke="#111" stroke-width="3"/>
<path d="M186.4,868 L201.5,894.7 L186.4,887.7 L170.7,894.7 Z" fill="#1a1a1a"/>
<path d="M945,889.3 V926" stroke="#111" stroke-width="3"/>
<path d="M945,871.3 L960,897.3 L945,890.3 L930,897.3 Z" fill="#1a1a1a"/>
<text x="181.4" y="940.6" font-size="19.4" fill="#111" textLength="227.4" lengthAdjust="spacingAndGlyphs">High frequency stimulation</text>
<text x="937.3" y="944.8" font-size="19" fill="#111" textLength="227.6" lengthAdjust="spacingAndGlyphs">High frequency stimulation</text>
<path d="M191.6,700.3 V737.3 M187.7,700.3 H195.5 M187.7,737.3 H195.5 M198.5,694.2 V732 M194.6,694.2 H202.4 M194.6,732 H202.4 M205.5,686.9 V729.6 M201.6,686.9 H209.4 M201.6,729.6 H209.4 M212.5,692.2 V730.1 M208.6,692.2 H216.4 M208.6,730.1 H216.4 M219.4,689.1 V727.4 M215.5,689.1 H223.3 M215.5,727.4 H223.3 M226.4,697.7 V730.7 M222.5,697.7 H230.3 M222.5,730.7 H230.3 M233.4,698.3 V733.6 M229.5,698.3 H237.3 M229.5,733.6 H237.3 M240.4,700.5 V733.1 M236.5,700.5 H244.3 M236.5,733.1 H244.3 M247.3,702.3 V739.3 M243.4,702.3 H251.2 M243.4,739.3 H251.2 M254.3,703.2 V740.2 M250.4,703.2 H258.2 M250.4,740.2 H258.2 M261.3,702.3 V739.3 M257.4,702.3 H265.2 M257.4,739.3 H265.2 M268.2,706.1 V743 M264.3,706.1 H272.1 M264.3,743 H272.1 M275.2,708.9 V745.9 M271.3,708.9 H279.1 M271.3,745.9 H279.1 M282.2,703.2 V740.2 M278.3,703.2 H286.1 M278.3,740.2 H286.1 M289.1,707.2 V744.1 M285.2,707.2 H293 M285.2,744.1 H293 M296.1,711.8 V748.8 M292.2,711.8 H300 M292.2,748.8 H300 M303.1,714.6 V751.6 M299.2,714.6 H307 M299.2,751.6 H307 M310.1,712.9 V749.9 M306.2,712.9 H314 M306.2,749.9 H314 M317,710.9 V747.9 M313.1,710.9 H320.9 M313.1,747.9 H320.9 M324,715.7 V752.7 M320.1,715.7 H327.9 M320.1,752.7 H327.9 M331,711.8 V748.8 M327.1,711.8 H334.9 M327.1,748.8 H334.9 M337.9,713.8 V750.8 M334,713.8 H341.8 M334,750.8 H341.8 M344.9,717.5 V754.5 M341,717.5 H348.8 M341,754.5 H348.8 M351.9,718.6 V755.6 M348,718.6 H355.8 M348,755.6 H355.8 M358.9,722.3 V759.3 M355,722.3 H362.8 M355,759.3 H362.8 M365.8,719.5 V756.5 M361.9,719.5 H369.7 M361.9,756.5 H369.7 M372.8,715.7 V752.7 M368.9,715.7 H376.7 M368.9,752.7 H376.7 M379.8,722.3 V759.3 M375.9,722.3 H383.7 M375.9,759.3 H383.7 M386.7,723.9 V760.9 M382.8,723.9 H390.6 M382.8,760.9 H390.6 M393.7,723.2 V760.2 M389.8,723.2 H397.6 M389.8,760.2 H397.6 M400.7,722.3 V759.3 M396.8,722.3 H404.6 M396.8,759.3 H404.6 M407.6,728.1 V765.1 M403.7,728.1 H411.5 M403.7,765.1 H411.5 M414.6,723.2 V760.2 M410.7,723.2 H418.5 M410.7,760.2 H418.5 M421.6,719.5 V756.5 M417.7,719.5 H425.5 M417.7,756.5 H425.5 M428.5,720.6 V757.6 M424.6,720.6 H432.4 M424.6,757.6 H432.4 M435.5,723.2 V760.2 M431.6,723.2 H439.4 M431.6,760.2 H439.4 M442.5,722.3 V759.3 M438.6,722.3 H446.4 M438.6,759.3 H446.4 M449.5,722.8 V759.8 M445.6,722.8 H453.4 M445.6,759.8 H453.4 M456.4,722.3 V759.3 M452.5,722.3 H460.3 M452.5,759.3 H460.3 M463.4,729.2 V766.2 M459.5,729.2 H467.3 M459.5,766.2 H467.3 M470.4,726.3 V763.3 M466.5,726.3 H474.3 M466.5,763.3 H474.3 M477.3,720.6 V757.6 M473.4,720.6 H481.2 M473.4,757.6 H481.2 M484.3,722.3 V759.3 M480.4,722.3 H488.2 M480.4,759.3 H488.2 M491.3,724.3 V761.3 M487.4,724.3 H495.2 M487.4,761.3 H495.2 M498.2,723.2 V760.2 M494.4,723.2 H502.1 M494.4,760.2 H502.1 M505.2,716.8 V763.1 M501.3,716.8 H509.1 M501.3,763.1 H509.1 M512.2,714.9 V761.1 M508.3,714.9 H516.1 M508.3,761.1 H516.1 M519.2,716.8 V763.1 M515.3,716.8 H523.1 M515.3,763.1 H523.1 M526.1,717.7 V764 M522.2,717.7 H530 M522.2,764 H530 M533.1,716 V762.2 M529.2,716 H537 M529.2,762.2 H537 M540.1,712 V758.2 M536.2,712 H544 M536.2,758.2 H544 M547,716 V762.2 M543.1,716 H550.9 M543.1,762.2 H550.9 M554,714.9 V761.1 M550.1,714.9 H557.9 M550.1,761.1 H557.9 M561,712.9 V759.1 M557.1,712.9 H564.9 M557.1,759.1 H564.9 M567.9,710 V756.3 M564,710 H571.8 M564,756.3 H571.8 M574.9,699.7 V759.1 M571,699.7 H578.8 M571,759.1 H578.8 M581.9,700.5 V760 M578,700.5 H585.8 M578,760 H585.8 M588.9,700.5 V760 M585,700.5 H592.8 M585,760 H592.8 M595.8,697.7 V757.1 M591.9,697.7 H599.7 M591.9,757.1 H599.7 M602.8,704.5 V764 M598.9,704.5 H606.7 M598.9,764 H606.7 M609.8,697.7 V757.1 M605.9,697.7 H613.7 M605.9,757.1 H613.7 M616.7,699.7 V759.1 M612.8,699.7 H620.6 M612.8,759.1 H620.6 M623.7,697.7 V757.1 M619.8,697.7 H627.6 M619.8,757.1 H627.6 M630.7,703.4 V762.9 M626.8,703.4 H634.6 M626.8,762.9 H634.6 M637.6,697.7 V757.1 M633.8,697.7 H641.5 M633.8,757.1 H641.5 M644.6,708.3 V767.7 M640.7,708.3 H648.5 M640.7,767.7 H648.5 M651.6,701.6 V761.1 M647.7,701.6 H655.5 M647.7,761.1 H655.5 M658.6,705.4 V764.8 M654.7,705.4 H662.5 M654.7,764.8 H662.5 M665.5,706.3 V765.7 M661.6,706.3 H669.4 M661.6,765.7 H669.4 M672.5,699.7 V759.1 M668.6,699.7 H676.4 M668.6,759.1 H676.4 M679.5,702.5 V762 M675.6,702.5 H683.4 M675.6,762 H683.4 M686.4,698.6 V758 M682.5,698.6 H690.3 M682.5,758 H690.3 M693.4,703.4 V762.9 M689.5,703.4 H697.3 M689.5,762.9 H697.3 M700.4,708.3 V767.7 M696.5,708.3 H704.3 M696.5,767.7 H704.3 M707.4,703.4 V762.9 M703.5,703.4 H711.2 M703.5,762.9 H711.2 M714.3,706.3 V765.7 M710.4,706.3 H718.2 M710.4,765.7 H718.2 M721.3,708.3 V767.7 M717.4,708.3 H725.2 M717.4,767.7 H725.2 M728.3,707.4 V766.8 M724.4,707.4 H732.2 M724.4,766.8 H732.2 M735.2,711.1 V770.6 M731.3,711.1 H739.1 M731.3,770.6 H739.1 M742.2,708.3 V767.7 M738.3,708.3 H746.1 M738.3,767.7 H746.1 " stroke="#111" stroke-width="1.4" fill="none"/>
<path d="M191.6,821 V836.9 M187.7,821 H195.5 M187.7,836.9 H195.5 M198.5,814.4 V830.2 M194.6,814.4 H202.4 M194.6,830.2 H202.4 M205.5,820.1 V836 M201.6,820.1 H209.4 M201.6,836 H209.4 M212.5,816.4 V832.2 M208.6,816.4 H216.4 M208.6,832.2 H216.4 M219.4,809.5 V825.4 M215.5,809.5 H223.3 M215.5,825.4 H223.3 M226.4,808.7 V824.5 M222.5,808.7 H230.3 M222.5,824.5 H230.3 M233.4,813.3 V829.1 M229.5,813.3 H237.3 M229.5,829.1 H237.3 M240.4,805.8 V821.7 M236.5,805.8 H244.3 M236.5,821.7 H244.3 M247.3,805.8 V821.7 M243.4,805.8 H251.2 M243.4,821.7 H251.2 M254.3,806.7 V822.5 M250.4,806.7 H258.2 M250.4,822.5 H258.2 M261.3,812.2 V838.2 M257.4,812.2 H265.2 M257.4,838.2 H265.2 M268.2,807.6 V825.6 M264.3,807.6 H272.1 M264.3,825.6 H272.1 M275.2,808 V826.1 M271.3,808 H279.1 M271.3,826.1 H279.1 M282.2,817.3 V837.1 M278.3,817.3 H286.1 M278.3,837.1 H286.1 M289.1,814.2 V832.2 M285.2,814.2 H293 M285.2,832.2 H293 M296.1,811.3 V829.4 M292.2,811.3 H300 M292.2,829.4 H300 M303.1,808 V826.1 M299.2,808 H307 M299.2,826.1 H307 M310.1,819.9 V838 M306.2,819.9 H314 M306.2,838 H314 M317,816.2 V834.2 M313.1,816.2 H320.9 M313.1,834.2 H320.9 M324,821.4 V839.5 M320.1,821.4 H327.9 M320.1,839.5 H327.9 M331,818.6 V836.6 M327.1,818.6 H334.9 M327.1,836.6 H334.9 M337.9,814 V832 M334,814 H341.8 M334,832 H341.8 M344.9,818.6 V836.6 M341,818.6 H348.8 M341,836.6 H348.8 M351.9,821 V839.1 M348,821 H355.8 M348,839.1 H355.8 M358.9,824.7 V842.8 M355,824.7 H362.8 M355,842.8 H362.8 M365.8,829.1 V853.8 M361.9,829.1 H369.7 M361.9,853.8 H369.7 M372.8,819 V837.1 M368.9,819 H376.7 M368.9,837.1 H376.7 M379.8,818.6 V836.6 M375.9,818.6 H383.7 M375.9,836.6 H383.7 M386.7,821.4 V839.5 M382.8,821.4 H390.6 M382.8,839.5 H390.6 M393.7,822.8 V840.8 M389.8,822.8 H397.6 M389.8,840.8 H397.6 M400.7,822.8 V840.8 M396.8,822.8 H404.6 M396.8,840.8 H404.6 M407.6,823.9 V841.9 M403.7,823.9 H411.5 M403.7,841.9 H411.5 M414.6,823.9 V841.9 M410.7,823.9 H418.5 M410.7,841.9 H418.5 M421.6,832.4 V850.5 M417.7,832.4 H425.5 M417.7,850.5 H425.5 M428.5,829.1 V847.2 M424.6,829.1 H432.4 M424.6,847.2 H432.4 M435.5,837.1 V855.1 M431.6,837.1 H439.4 M431.6,855.1 H439.4 M442.5,840.2 V858.2 M438.6,840.2 H446.4 M438.6,858.2 H446.4 M449.5,837.1 V855.1 M445.6,837.1 H453.4 M445.6,855.1 H453.4 M456.4,840.2 V858.2 M452.5,840.2 H460.3 M452.5,858.2 H460.3 M463.4,836.2 V854.2 M459.5,836.2 H467.3 M459.5,854.2 H467.3 M470.4,836.2 V854.2 M466.5,836.2 H474.3 M466.5,854.2 H474.3 M477.3,837.1 V855.1 M473.4,837.1 H481.2 M473.4,855.1 H481.2 M484.3,835.8 V853.8 M480.4,835.8 H488.2 M480.4,853.8 H488.2 M491.3,838.2 V856.2 M487.4,838.2 H495.2 M487.4,856.2 H495.2 M498.2,837.1 V855.1 M494.4,837.1 H502.1 M494.4,855.1 H502.1 M505.2,839.1 V857.1 M501.3,839.1 H509.1 M501.3,857.1 H509.1 M512.2,837.5 V868.3 M508.3,837.5 H516.1 M508.3,868.3 H516.1 M519.2,841 V859.1 M515.3,841 H523.1 M515.3,859.1 H523.1 M526.1,840.2 V858.2 M522.2,840.2 H530 M522.2,858.2 H530 M533.1,843 V861.1 M529.2,843 H537 M529.2,861.1 H537 M540.1,837.1 V855.1 M536.2,837.1 H544 M536.2,855.1 H544 M547,839.1 V857.1 M543.1,839.1 H550.9 M543.1,857.1 H550.9 M554,838.2 V856.2 M550.1,838.2 H557.9 M550.1,856.2 H557.9 M561,843 V861.1 M557.1,843 H564.9 M557.1,861.1 H564.9 M567.9,839.1 V857.1 M564,839.1 H571.8 M564,857.1 H571.8 M574.9,839.1 V857.1 M571,839.1 H578.8 M571,857.1 H578.8 M581.9,843 V861.1 M578,843 H585.8 M578,861.1 H585.8 M588.9,827.6 V845.7 M585,827.6 H592.8 M585,845.7 H592.8 M595.8,836.2 V854.2 M591.9,836.2 H599.7 M591.9,854.2 H599.7 M602.8,839.1 V857.1 M598.9,839.1 H606.7 M598.9,857.1 H606.7 M609.8,841.9 V860 M605.9,841.9 H613.7 M605.9,860 H613.7 M616.7,841 V859.1 M612.8,841 H620.6 M612.8,859.1 H620.6 M623.7,841.9 V860 M619.8,841.9 H627.6 M619.8,860 H627.6 M630.7,840.6 V858.7 M626.8,840.6 H634.6 M626.8,858.7 H634.6 M637.6,843 V861.1 M633.8,843 H641.5 M633.8,861.1 H641.5 M644.6,841.5 V859.5 M640.7,841.5 H648.5 M640.7,859.5 H648.5 M651.6,839.9 V858 M647.7,839.9 H655.5 M647.7,858 H655.5 M658.6,842.8 V860.9 M654.7,842.8 H662.5 M654.7,860.9 H662.5 M665.5,841.7 V859.8 M661.6,841.7 H669.4 M661.6,859.8 H669.4 M672.5,840.4 V858.4 M668.6,840.4 H676.4 M668.6,858.4 H676.4 M679.5,843.5 V861.5 M675.6,843.5 H683.4 M675.6,861.5 H683.4 M686.4,842.1 V860.2 M682.5,842.1 H690.3 M682.5,860.2 H690.3 M693.4,840.6 V858.7 M689.5,840.6 H697.3 M689.5,858.7 H697.3 M700.4,843.9 V862 M696.5,843.9 H704.3 M696.5,862 H704.3 M707.4,842.4 V860.4 M703.5,842.4 H711.2 M703.5,860.4 H711.2 M714.3,840.8 V858.9 M710.4,840.8 H718.2 M710.4,858.9 H718.2 M721.3,843.7 V861.7 M717.4,843.7 H725.2 M717.4,861.7 H725.2 M728.3,842.1 V860.2 M724.4,842.1 H732.2 M724.4,860.2 H732.2 M735.2,843.5 V861.5 M731.3,843.5 H739.1 M731.3,861.5 H739.1 M742.2,838.8 V856.9 M738.3,838.8 H746.1 M738.3,856.9 H746.1 " stroke="#111" stroke-width="1.4" fill="none"/>
<path d="M114.9,845 L121.9,845 L128.8,839.7 L135.8,845 L142.8,845 L149.8,849 L156.7,845 L163.7,848.1 L170.7,841 L177.6,849 L184.6,845 L191.6,718.8 L198.5,713.1 L205.5,708.3 L212.5,711.1 L219.4,708.3 L226.4,714.2 L233.4,716 L240.4,716.8 L247.3,720.8 L254.3,721.7 L261.3,720.8 L268.2,724.6 L275.2,727.4 L282.2,721.7 L289.1,725.7 L296.1,730.3 L303.1,733.1 L310.1,731.4 L317,729.4 L324,734.2 L331,730.3 L337.9,732.3 L344.9,736 L351.9,737.1 L358.9,740.8 L365.8,738 L372.8,734.2 L379.8,740.8 L386.7,742.4 L393.7,741.7 L400.7,740.8 L407.6,746.6 L414.6,741.7 L421.6,738 L428.5,739.1 L435.5,741.7 L442.5,740.8 L449.5,741.3 L456.4,740.8 L463.4,747.7 L470.4,744.8 L477.3,739.1 L484.3,740.8 L491.3,742.8 L498.2,741.7 L505.2,740 L512.2,738 L519.2,740 L526.1,740.8 L533.1,739.1 L540.1,735.1 L547,739.1 L554,738 L561,736 L567.9,733.1 L574.9,729.4 L581.9,730.3 L588.9,730.3 L595.8,727.4 L602.8,734.2 L609.8,727.4 L616.7,729.4 L623.7,727.4 L630.7,733.1 L637.6,727.4 L644.6,738 L651.6,731.4 L658.6,735.1 L665.5,736 L672.5,729.4 L679.5,732.3 L686.4,728.3 L693.4,733.1 L700.4,738 L707.4,733.1 L714.3,736 L721.3,738 L728.3,737.1 L735.2,740.8 L742.2,738" stroke="#111" stroke-width="1.0" fill="none"/>
<path d="M114.9,845 L121.9,845.9 L128.8,845.9 L135.8,845.4 L142.8,845.9 L149.8,845.9 L156.7,845.9 L163.7,845.4 L170.7,848.3 L177.6,845.9 L184.6,845.7 L191.6,828.9 L198.5,822.3 L205.5,828 L212.5,824.3 L219.4,817.5 L226.4,816.6 L233.4,821.2 L240.4,813.7 L247.3,813.7 L254.3,814.6 L261.3,825.2 L268.2,816.6 L275.2,817 L282.2,827.2 L289.1,823.2 L296.1,820.3 L303.1,817 L310.1,828.9 L317,825.2 L324,830.5 L331,827.6 L337.9,823 L344.9,827.6 L351.9,830 L358.9,833.8 L365.8,841.5 L372.8,828 L379.8,827.6 L386.7,830.5 L393.7,831.8 L400.7,831.8 L407.6,832.9 L414.6,832.9 L421.6,841.5 L428.5,838.2 L435.5,846.1 L442.5,849.2 L449.5,846.1 L456.4,849.2 L463.4,845.2 L470.4,845.2 L477.3,846.1 L484.3,844.8 L491.3,847.2 L498.2,846.1 L505.2,848.1 L512.2,852.9 L519.2,850.1 L526.1,849.2 L533.1,852 L540.1,846.1 L547,848.1 L554,847.2 L561,852 L567.9,848.1 L574.9,848.1 L581.9,852 L588.9,836.6 L595.8,845.2 L602.8,848.1 L609.8,850.9 L616.7,850.1 L623.7,850.9 L630.7,849.6 L637.6,852 L644.6,850.5 L651.6,849 L658.6,851.8 L665.5,850.7 L672.5,849.4 L679.5,852.5 L686.4,851.2 L693.4,849.6 L700.4,852.9 L707.4,851.4 L714.3,849.8 L721.3,852.7 L728.3,851.2 L735.2,852.5 L742.2,847.9" stroke="#111" stroke-width="1.0" fill="none"/>
<path d="M114.9,840.8 l4.2,4.2 l-4.2,4.2 l-4.2,-4.2 Z" fill="none" stroke="#000" stroke-width="1.45"/><path d="M121.9,840.8 l4.2,4.2 l-4.2,4.2 l-4.2,-4.2 Z" fill="none" stroke="#000" stroke-width="1.45"/><path d="M128.8,835.5 l4.2,4.2 l-4.2,4.2 l-4.2,-4.2 Z" fill="none" stroke="#000" stroke-width="1.45"/><path d="M135.8,840.8 l4.2,4.2 l-4.2,4.2 l-4.2,-4.2 Z" fill="none" stroke="#000" stroke-width="1.45"/><path d="M142.8,840.8 l4.2,4.2 l-4.2,4.2 l-4.2,-4.2 Z" fill="none" stroke="#000" stroke-width="1.45"/><path d="M149.8,844.8 l4.2,4.2 l-4.2,4.2 l-4.2,-4.2 Z" fill="none" stroke="#000" stroke-width="1.45"/><path d="M156.7,840.8 l4.2,4.2 l-4.2,4.2 l-4.2,-4.2 Z" fill="none" stroke="#000" stroke-width="1.45"/><path d="M163.7,843.9 l4.2,4.2 l-4.2,4.2 l-4.2,-4.2 Z" fill="none" stroke="#000" stroke-width="1.45"/><path d="M170.7,836.8 l4.2,4.2 l-4.2,4.2 l-4.2,-4.2 Z" fill="none" stroke="#000" stroke-width="1.45"/><path d="M177.6,844.8 l4.2,4.2 l-4.2,4.2 l-4.2,-4.2 Z" fill="none" stroke="#000" stroke-width="1.45"/><path d="M184.6,840.8 l4.2,4.2 l-4.2,4.2 l-4.2,-4.2 Z" fill="none" stroke="#000" stroke-width="1.45"/><path d="M191.6,714.6 l4.2,4.2 l-4.2,4.2 l-4.2,-4.2 Z" fill="none" stroke="#000" stroke-width="1.45"/><path d="M198.5,708.9 l4.2,4.2 l-4.2,4.2 l-4.2,-4.2 Z" fill="none" stroke="#000" stroke-width="1.45"/><path d="M205.5,704.1 l4.2,4.2 l-4.2,4.2 l-4.2,-4.2 Z" fill="none" stroke="#000" stroke-width="1.45"/><path d="M212.5,706.9 l4.2,4.2 l-4.2,4.2 l-4.2,-4.2 Z" fill="none" stroke="#000" stroke-width="1.45"/><path d="M219.4,704.1 l4.2,4.2 l-4.2,4.2 l-4.2,-4.2 Z" fill="none" stroke="#000" stroke-width="1.45"/><path d="M226.4,710 l4.2,4.2 l-4.2,4.2 l-4.2,-4.2 Z" fill="none" stroke="#000" stroke-width="1.45"/><path d="M233.4,711.8 l4.2,4.2 l-4.2,4.2 l-4.2,-4.2 Z" fill="none" stroke="#000" stroke-width="1.45"/><path d="M240.4,712.6 l4.2,4.2 l-4.2,4.2 l-4.2,-4.2 Z" fill="none" stroke="#000" stroke-width="1.45"/><path d="M247.3,716.6 l4.2,4.2 l-4.2,4.2 l-4.2,-4.2 Z" fill="none" stroke="#000" stroke-width="1.45"/><path d="M254.3,717.5 l4.2,4.2 l-4.2,4.2 l-4.2,-4.2 Z" fill="none" stroke="#000" stroke-width="1.45"/><path d="M261.3,716.6 l4.2,4.2 l-4.2,4.2 l-4.2,-4.2 Z" fill="none" stroke="#000" stroke-width="1.45"/><path d="M268.2,720.4 l4.2,4.2 l-4.2,4.2 l-4.2,-4.2 Z" fill="none" stroke="#000" stroke-width="1.45"/><path d="M275.2,723.2 l4.2,4.2 l-4.2,4.2 l-4.2,-4.2 Z" fill="none" stroke="#000" stroke-width="1.45"/><path d="M282.2,717.5 l4.2,4.2 l-4.2,4.2 l-4.2,-4.2 Z" fill="none" stroke="#000" stroke-width="1.45"/><path d="M289.1,721.5 l4.2,4.2 l-4.2,4.2 l-4.2,-4.2 Z" fill="none" stroke="#000" stroke-width="1.45"/><path d="M296.1,726.1 l4.2,4.2 l-4.2,4.2 l-4.2,-4.2 Z" fill="none" stroke="#000" stroke-width="1.45"/><path d="M303.1,728.9 l4.2,4.2 l-4.2,4.2 l-4.2,-4.2 Z" fill="none" stroke="#000" stroke-width="1.45"/><path d="M310.1,727.2 l4.2,4.2 l-4.2,4.2 l-4.2,-4.2 Z" fill="none" stroke="#000" stroke-width="1.45"/><path d="M317,725.2 l4.2,4.2 l-4.2,4.2 l-4.2,-4.2 Z" fill="none" stroke="#000" stroke-width="1.45"/><path d="M324,730 l4.2,4.2 l-4.2,4.2 l-4.2,-4.2 Z" fill="none" stroke="#000" stroke-width="1.45"/><path d="M331,726.1 l4.2,4.2 l-4.2,4.2 l-4.2,-4.2 Z" fill="none" stroke="#000" stroke-width="1.45"/><path d="M337.9,728.1 l4.2,4.2 l-4.2,4.2 l-4.2,-4.2 Z" fill="none" stroke="#000" stroke-width="1.45"/><path d="M344.9,731.8 l4.2,4.2 l-4.2,4.2 l-4.2,-4.2 Z" fill="none" stroke="#000" stroke-width="1.45"/><path d="M351.9,732.9 l4.2,4.2 l-4.2,4.2 l-4.2,-4.2 Z" fill="none" stroke="#000" stroke-width="1.45"/><path d="M358.9,736.6 l4.2,4.2 l-4.2,4.2 l-4.2,-4.2 Z" fill="none" stroke="#000" stroke-width="1.45"/><path d="M365.8,733.8 l4.2,4.2 l-4.2,4.2 l-4.2,-4.2 Z" fill="none" stroke="#000" stroke-width="1.45"/><path d="M372.8,730 l4.2,4.2 l-4.2,4.2 l-4.2,-4.2 Z" fill="none" stroke="#000" stroke-width="1.45"/><path d="M379.8,736.6 l4.2,4.2 l-4.2,4.2 l-4.2,-4.2 Z" fill="none" stroke="#000" stroke-width="1.45"/><path d="M386.7,738.2 l4.2,4.2 l-4.2,4.2 l-4.2,-4.2 Z" fill="none" stroke="#000" stroke-width="1.45"/><path d="M393.7,737.5 l4.2,4.2 l-4.2,4.2 l-4.2,-4.2 Z" fill="none" stroke="#000" stroke-width="1.45"/><path d="M400.7,736.6 l4.2,4.2 l-4.2,4.2 l-4.2,-4.2 Z" fill="none" stroke="#000" stroke-width="1.45"/><path d="M407.6,742.4 l4.2,4.2 l-4.2,4.2 l-4.2,-4.2 Z" fill="none" stroke="#000" stroke-width="1.45"/><path d="M414.6,737.5 l4.2,4.2 l-4.2,4.2 l-4.2,-4.2 Z" fill="none" stroke="#000" stroke-width="1.45"/><path d="M421.6,733.8 l4.2,4.2 l-4.2,4.2 l-4.2,-4.2 Z" fill="none" stroke="#000" stroke-width="1.45"/><path d="M428.5,734.9 l4.2,4.2 l-4.2,4.2 l-4.2,-4.2 Z" fill="none" stroke="#000" stroke-width="1.45"/><path d="M435.5,737.5 l4.2,4.2 l-4.2,4.2 l-4.2,-4.2 Z" fill="none" stroke="#000" stroke-width="1.45"/><path d="M442.5,736.6 l4.2,4.2 l-4.2,4.2 l-4.2,-4.2 Z" fill="none" stroke="#000" stroke-width="1.45"/><path d="M449.5,737.1 l4.2,4.2 l-4.2,4.2 l-4.2,-4.2 Z" fill="none" stroke="#000" stroke-width="1.45"/><path d="M456.4,736.6 l4.2,4.2 l-4.2,4.2 l-4.2,-4.2 Z" fill="none" stroke="#000" stroke-width="1.45"/><path d="M463.4,743.5 l4.2,4.2 l-4.2,4.2 l-4.2,-4.2 Z" fill="none" stroke="#000" stroke-width="1.45"/><path d="M470.4,740.6 l4.2,4.2 l-4.2,4.2 l-4.2,-4.2 Z" fill="none" stroke="#000" stroke-width="1.45"/><path d="M477.3,734.9 l4.2,4.2 l-4.2,4.2 l-4.2,-4.2 Z" fill="none" stroke="#000" stroke-width="1.45"/><path d="M484.3,736.6 l4.2,4.2 l-4.2,4.2 l-4.2,-4.2 Z" fill="none" stroke="#000" stroke-width="1.45"/><path d="M491.3,738.6 l4.2,4.2 l-4.2,4.2 l-4.2,-4.2 Z" fill="none" stroke="#000" stroke-width="1.45"/><path d="M498.2,737.5 l4.2,4.2 l-4.2,4.2 l-4.2,-4.2 Z" fill="none" stroke="#000" stroke-width="1.45"/><path d="M505.2,735.8 l4.2,4.2 l-4.2,4.2 l-4.2,-4.2 Z" fill="none" stroke="#000" stroke-width="1.45"/><path d="M512.2,733.8 l4.2,4.2 l-4.2,4.2 l-4.2,-4.2 Z" fill="none" stroke="#000" stroke-width="1.45"/><path d="M519.2,735.8 l4.2,4.2 l-4.2,4.2 l-4.2,-4.2 Z" fill="none" stroke="#000" stroke-width="1.45"/><path d="M526.1,736.6 l4.2,4.2 l-4.2,4.2 l-4.2,-4.2 Z" fill="none" stroke="#000" stroke-width="1.45"/><path d="M533.1,734.9 l4.2,4.2 l-4.2,4.2 l-4.2,-4.2 Z" fill="none" stroke="#000" stroke-width="1.45"/><path d="M540.1,730.9 l4.2,4.2 l-4.2,4.2 l-4.2,-4.2 Z" fill="none" stroke="#000" stroke-width="1.45"/><path d="M547,734.9 l4.2,4.2 l-4.2,4.2 l-4.2,-4.2 Z" fill="none" stroke="#000" stroke-width="1.45"/><path d="M554,733.8 l4.2,4.2 l-4.2,4.2 l-4.2,-4.2 Z" fill="none" stroke="#000" stroke-width="1.45"/><path d="M561,731.8 l4.2,4.2 l-4.2,4.2 l-4.2,-4.2 Z" fill="none" stroke="#000" stroke-width="1.45"/><path d="M567.9,728.9 l4.2,4.2 l-4.2,4.2 l-4.2,-4.2 Z" fill="none" stroke="#000" stroke-width="1.45"/><path d="M574.9,725.2 l4.2,4.2 l-4.2,4.2 l-4.2,-4.2 Z" fill="none" stroke="#000" stroke-width="1.45"/><path d="M581.9,726.1 l4.2,4.2 l-4.2,4.2 l-4.2,-4.2 Z" fill="none" stroke="#000" stroke-width="1.45"/><path d="M588.9,726.1 l4.2,4.2 l-4.2,4.2 l-4.2,-4.2 Z" fill="none" stroke="#000" stroke-width="1.45"/><path d="M595.8,723.2 l4.2,4.2 l-4.2,4.2 l-4.2,-4.2 Z" fill="none" stroke="#000" stroke-width="1.45"/><path d="M602.8,730 l4.2,4.2 l-4.2,4.2 l-4.2,-4.2 Z" fill="none" stroke="#000" stroke-width="1.45"/><path d="M609.8,723.2 l4.2,4.2 l-4.2,4.2 l-4.2,-4.2 Z" fill="none" stroke="#000" stroke-width="1.45"/><path d="M616.7,725.2 l4.2,4.2 l-4.2,4.2 l-4.2,-4.2 Z" fill="none" stroke="#000" stroke-width="1.45"/><path d="M623.7,723.2 l4.2,4.2 l-4.2,4.2 l-4.2,-4.2 Z" fill="none" stroke="#000" stroke-width="1.45"/><path d="M630.7,728.9 l4.2,4.2 l-4.2,4.2 l-4.2,-4.2 Z" fill="none" stroke="#000" stroke-width="1.45"/><path d="M637.6,723.2 l4.2,4.2 l-4.2,4.2 l-4.2,-4.2 Z" fill="none" stroke="#000" stroke-width="1.45"/><path d="M644.6,733.8 l4.2,4.2 l-4.2,4.2 l-4.2,-4.2 Z" fill="none" stroke="#000" stroke-width="1.45"/><path d="M651.6,727.2 l4.2,4.2 l-4.2,4.2 l-4.2,-4.2 Z" fill="none" stroke="#000" stroke-width="1.45"/><path d="M658.6,730.9 l4.2,4.2 l-4.2,4.2 l-4.2,-4.2 Z" fill="none" stroke="#000" stroke-width="1.45"/><path d="M665.5,731.8 l4.2,4.2 l-4.2,4.2 l-4.2,-4.2 Z" fill="none" stroke="#000" stroke-width="1.45"/><path d="M672.5,725.2 l4.2,4.2 l-4.2,4.2 l-4.2,-4.2 Z" fill="none" stroke="#000" stroke-width="1.45"/><path d="M679.5,728.1 l4.2,4.2 l-4.2,4.2 l-4.2,-4.2 Z" fill="none" stroke="#000" stroke-width="1.45"/><path d="M686.4,724.1 l4.2,4.2 l-4.2,4.2 l-4.2,-4.2 Z" fill="none" stroke="#000" stroke-width="1.45"/><path d="M693.4,728.9 l4.2,4.2 l-4.2,4.2 l-4.2,-4.2 Z" fill="none" stroke="#000" stroke-width="1.45"/><path d="M700.4,733.8 l4.2,4.2 l-4.2,4.2 l-4.2,-4.2 Z" fill="none" stroke="#000" stroke-width="1.45"/><path d="M707.4,728.9 l4.2,4.2 l-4.2,4.2 l-4.2,-4.2 Z" fill="none" stroke="#000" stroke-width="1.45"/><path d="M714.3,731.8 l4.2,4.2 l-4.2,4.2 l-4.2,-4.2 Z" fill="none" stroke="#000" stroke-width="1.45"/><path d="M721.3,733.8 l4.2,4.2 l-4.2,4.2 l-4.2,-4.2 Z" fill="none" stroke="#000" stroke-width="1.45"/><path d="M728.3,732.9 l4.2,4.2 l-4.2,4.2 l-4.2,-4.2 Z" fill="none" stroke="#000" stroke-width="1.45"/><path d="M735.2,736.6 l4.2,4.2 l-4.2,4.2 l-4.2,-4.2 Z" fill="none" stroke="#000" stroke-width="1.45"/><path d="M742.2,733.8 l4.2,4.2 l-4.2,4.2 l-4.2,-4.2 Z" fill="none" stroke="#000" stroke-width="1.45"/>
<path d="M114.9,840 l5,5 l-5,5 l-5,-5 Z" fill="#000"/><path d="M121.9,840.9 l5,5 l-5,5 l-5,-5 Z" fill="#000"/><path d="M128.8,840.9 l5,5 l-5,5 l-5,-5 Z" fill="#000"/><path d="M135.8,840.4 l5,5 l-5,5 l-5,-5 Z" fill="#000"/><path d="M142.8,840.9 l5,5 l-5,5 l-5,-5 Z" fill="#000"/><path d="M149.8,840.9 l5,5 l-5,5 l-5,-5 Z" fill="#000"/><path d="M156.7,840.9 l5,5 l-5,5 l-5,-5 Z" fill="#000"/><path d="M163.7,840.4 l5,5 l-5,5 l-5,-5 Z" fill="#000"/><path d="M170.7,843.3 l5,5 l-5,5 l-5,-5 Z" fill="#000"/><path d="M177.6,840.9 l5,5 l-5,5 l-5,-5 Z" fill="#000"/><path d="M184.6,840.7 l5,5 l-5,5 l-5,-5 Z" fill="#000"/><path d="M191.6,823.9 l5,5 l-5,5 l-5,-5 Z" fill="#000"/><path d="M198.5,817.3 l5,5 l-5,5 l-5,-5 Z" fill="#000"/><path d="M205.5,823 l5,5 l-5,5 l-5,-5 Z" fill="#000"/><path d="M212.5,819.3 l5,5 l-5,5 l-5,-5 Z" fill="#000"/><path d="M219.4,812.5 l5,5 l-5,5 l-5,-5 Z" fill="#000"/><path d="M226.4,811.6 l5,5 l-5,5 l-5,-5 Z" fill="#000"/><path d="M233.4,816.2 l5,5 l-5,5 l-5,-5 Z" fill="#000"/><path d="M240.4,808.7 l5,5 l-5,5 l-5,-5 Z" fill="#000"/><path d="M247.3,808.7 l5,5 l-5,5 l-5,-5 Z" fill="#000"/><path d="M254.3,809.6 l5,5 l-5,5 l-5,-5 Z" fill="#000"/><path d="M261.3,820.2 l5,5 l-5,5 l-5,-5 Z" fill="#000"/><path d="M268.2,811.6 l5,5 l-5,5 l-5,-5 Z" fill="#000"/><path d="M275.2,812 l5,5 l-5,5 l-5,-5 Z" fill="#000"/><path d="M282.2,822.2 l5,5 l-5,5 l-5,-5 Z" fill="#000"/><path d="M289.1,818.2 l5,5 l-5,5 l-5,-5 Z" fill="#000"/><path d="M296.1,815.3 l5,5 l-5,5 l-5,-5 Z" fill="#000"/><path d="M303.1,812 l5,5 l-5,5 l-5,-5 Z" fill="#000"/><path d="M310.1,823.9 l5,5 l-5,5 l-5,-5 Z" fill="#000"/><path d="M317,820.2 l5,5 l-5,5 l-5,-5 Z" fill="#000"/><path d="M324,825.5 l5,5 l-5,5 l-5,-5 Z" fill="#000"/><path d="M331,822.6 l5,5 l-5,5 l-5,-5 Z" fill="#000"/><path d="M337.9,818 l5,5 l-5,5 l-5,-5 Z" fill="#000"/><path d="M344.9,822.6 l5,5 l-5,5 l-5,-5 Z" fill="#000"/><path d="M351.9,825 l5,5 l-5,5 l-5,-5 Z" fill="#000"/><path d="M358.9,828.8 l5,5 l-5,5 l-5,-5 Z" fill="#000"/><path d="M365.8,836.5 l5,5 l-5,5 l-5,-5 Z" fill="#000"/><path d="M372.8,823 l5,5 l-5,5 l-5,-5 Z" fill="#000"/><path d="M379.8,822.6 l5,5 l-5,5 l-5,-5 Z" fill="#000"/><path d="M386.7,825.5 l5,5 l-5,5 l-5,-5 Z" fill="#000"/><path d="M393.7,826.8 l5,5 l-5,5 l-5,-5 Z" fill="#000"/><path d="M400.7,826.8 l5,5 l-5,5 l-5,-5 Z" fill="#000"/><path d="M407.6,827.9 l5,5 l-5,5 l-5,-5 Z" fill="#000"/><path d="M414.6,827.9 l5,5 l-5,5 l-5,-5 Z" fill="#000"/><path d="M421.6,836.5 l5,5 l-5,5 l-5,-5 Z" fill="#000"/><path d="M428.5,833.2 l5,5 l-5,5 l-5,-5 Z" fill="#000"/><path d="M435.5,841.1 l5,5 l-5,5 l-5,-5 Z" fill="#000"/><path d="M442.5,844.2 l5,5 l-5,5 l-5,-5 Z" fill="#000"/><path d="M449.5,841.1 l5,5 l-5,5 l-5,-5 Z" fill="#000"/><path d="M456.4,844.2 l5,5 l-5,5 l-5,-5 Z" fill="#000"/><path d="M463.4,840.2 l5,5 l-5,5 l-5,-5 Z" fill="#000"/><path d="M470.4,840.2 l5,5 l-5,5 l-5,-5 Z" fill="#000"/><path d="M477.3,841.1 l5,5 l-5,5 l-5,-5 Z" fill="#000"/><path d="M484.3,839.8 l5,5 l-5,5 l-5,-5 Z" fill="#000"/><path d="M491.3,842.2 l5,5 l-5,5 l-5,-5 Z" fill="#000"/><path d="M498.2,841.1 l5,5 l-5,5 l-5,-5 Z" fill="#000"/><path d="M505.2,843.1 l5,5 l-5,5 l-5,-5 Z" fill="#000"/><path d="M512.2,847.9 l5,5 l-5,5 l-5,-5 Z" fill="#000"/><path d="M519.2,845.1 l5,5 l-5,5 l-5,-5 Z" fill="#000"/><path d="M526.1,844.2 l5,5 l-5,5 l-5,-5 Z" fill="#000"/><path d="M533.1,847 l5,5 l-5,5 l-5,-5 Z" fill="#000"/><path d="M540.1,841.1 l5,5 l-5,5 l-5,-5 Z" fill="#000"/><path d="M547,843.1 l5,5 l-5,5 l-5,-5 Z" fill="#000"/><path d="M554,842.2 l5,5 l-5,5 l-5,-5 Z" fill="#000"/><path d="M561,847 l5,5 l-5,5 l-5,-5 Z" fill="#000"/><path d="M567.9,843.1 l5,5 l-5,5 l-5,-5 Z" fill="#000"/><path d="M574.9,843.1 l5,5 l-5,5 l-5,-5 Z" fill="#000"/><path d="M581.9,847 l5,5 l-5,5 l-5,-5 Z" fill="#000"/><path d="M588.9,831.6 l5,5 l-5,5 l-5,-5 Z" fill="#000"/><path d="M595.8,840.2 l5,5 l-5,5 l-5,-5 Z" fill="#000"/><path d="M602.8,843.1 l5,5 l-5,5 l-5,-5 Z" fill="#000"/><path d="M609.8,845.9 l5,5 l-5,5 l-5,-5 Z" fill="#000"/><path d="M616.7,845.1 l5,5 l-5,5 l-5,-5 Z" fill="#000"/><path d="M623.7,845.9 l5,5 l-5,5 l-5,-5 Z" fill="#000"/><path d="M630.7,844.6 l5,5 l-5,5 l-5,-5 Z" fill="#000"/><path d="M637.6,847 l5,5 l-5,5 l-5,-5 Z" fill="#000"/><path d="M644.6,845.5 l5,5 l-5,5 l-5,-5 Z" fill="#000"/><path d="M651.6,844 l5,5 l-5,5 l-5,-5 Z" fill="#000"/><path d="M658.6,846.8 l5,5 l-5,5 l-5,-5 Z" fill="#000"/><path d="M665.5,845.7 l5,5 l-5,5 l-5,-5 Z" fill="#000"/><path d="M672.5,844.4 l5,5 l-5,5 l-5,-5 Z" fill="#000"/><path d="M679.5,847.5 l5,5 l-5,5 l-5,-5 Z" fill="#000"/><path d="M686.4,846.2 l5,5 l-5,5 l-5,-5 Z" fill="#000"/><path d="M693.4,844.6 l5,5 l-5,5 l-5,-5 Z" fill="#000"/><path d="M700.4,847.9 l5,5 l-5,5 l-5,-5 Z" fill="#000"/><path d="M707.4,846.4 l5,5 l-5,5 l-5,-5 Z" fill="#000"/><path d="M714.3,844.8 l5,5 l-5,5 l-5,-5 Z" fill="#000"/><path d="M721.3,847.7 l5,5 l-5,5 l-5,-5 Z" fill="#000"/><path d="M728.3,846.2 l5,5 l-5,5 l-5,-5 Z" fill="#000"/><path d="M735.2,847.5 l5,5 l-5,5 l-5,-5 Z" fill="#000"/><path d="M742.2,842.9 l5,5 l-5,5 l-5,-5 Z" fill="#000"/>
<path d="M871.7,841.1 V851.7 M867.8,841.1 H875.6 M867.8,851.7 H875.6 M878.7,844.4 V855 M874.8,844.4 H882.6 M874.8,855 H882.6 M885.6,843.1 V853.6 M881.7,843.1 H889.5 M881.7,853.6 H889.5 M892.6,847.3 V857.8 M888.7,847.3 H896.5 M888.7,857.8 H896.5 M899.5,845.5 V856.1 M895.6,845.5 H903.4 M895.6,856.1 H903.4 M906.5,841.1 V851.7 M902.6,841.1 H910.4 M902.6,851.7 H910.4 M913.4,837.4 V847.9 M909.5,837.4 H917.3 M909.5,847.9 H917.3 M920.4,841.1 V851.7 M916.5,841.1 H924.2 M916.5,851.7 H924.2 M927.3,835.6 V846.2 M923.4,835.6 H931.2 M923.4,846.2 H931.2 M934.2,841.1 V851.7 M930.4,841.1 H938.1 M930.4,851.7 H938.1 M941.2,841.1 V851.7 M937.3,841.1 H945.1 M937.3,851.7 H945.1 M948.2,751.8 V850.6 M944.3,751.8 H952.1 M944.3,850.6 H952.1 M955.1,735.1 V842.9 M951.2,735.1 H959 M951.2,842.9 H959 M962.1,709.8 V839.4 M958.2,709.8 H966 M958.2,839.4 H966 M969,707.6 V839.4 M965.1,707.6 H972.9 M965.1,839.4 H972.9 M976,713.1 V838.5 M972.1,713.1 H979.9 M972.1,838.5 H979.9 M982.9,738.4 V841.3 M979,738.4 H986.8 M979,841.3 H986.8 M989.9,741.2 V843.3 M986,741.2 H993.8 M986,843.3 H993.8 M996.8,732.2 V854.7 M992.9,732.2 H1000.7 M992.9,854.7 H1000.7 M1003.8,757.5 V846.2 M999.9,757.5 H1007.6 M999.9,846.2 H1007.6 M1010.7,762.3 V846.2 M1006.8,762.3 H1014.6 M1006.8,846.2 H1014.6 M1017.7,762.3 V849.9 M1013.8,762.3 H1021.6 M1013.8,849.9 H1021.6 M1024.6,763.4 V849.9 M1020.7,763.4 H1028.5 M1020.7,849.9 H1028.5 M1031.5,764.7 V853.9 M1027.6,764.7 H1035.5 M1027.6,853.9 H1035.5 M1038.5,762.3 V851.9 M1034.6,762.3 H1042.4 M1034.6,851.9 H1042.4 M1045.5,763 V851.2 M1041.5,763 H1049.4 M1041.5,851.2 H1049.4 M1052.4,763 V853.9 M1048.5,763 H1056.3 M1048.5,853.9 H1056.3 M1059.4,762.5 V852.5 M1055.5,762.5 H1063.3 M1055.5,852.5 H1063.3 M1066.3,763.8 V853.4 M1062.4,763.8 H1070.2 M1062.4,853.4 H1070.2 M1073.2,761.9 V852.1 M1069.3,761.9 H1077.2 M1069.3,852.1 H1077.2 M1080.2,764.7 V853.2 M1076.3,764.7 H1084.1 M1076.3,853.2 H1084.1 M1087.2,762.1 V852.8 M1083.2,762.1 H1091.1 M1083.2,852.8 H1091.1 M1094.1,763.2 V853.9 M1090.2,763.2 H1098 M1090.2,853.9 H1098 M1101,765.6 V854.7 M1097.1,765.6 H1105 M1097.1,854.7 H1105 M1108,764 V853.4 M1104.1,764 H1111.9 M1104.1,853.4 H1111.9 M1115,766.9 V852.3 M1111,766.9 H1118.9 M1111,852.3 H1118.9 M1121.9,764.3 V854.1 M1118,764.3 H1125.8 M1118,854.1 H1125.8 M1128.9,765.4 V855 M1125,765.4 H1132.8 M1125,855 H1132.8 M1135.8,773.5 V883.7 M1131.9,773.5 H1139.7 M1131.9,883.7 H1139.7 M1142.8,767.8 V853.9 M1138.8,767.8 H1146.7 M1138.8,853.9 H1146.7 M1149.7,766.5 V854.3 M1145.8,766.5 H1153.6 M1145.8,854.3 H1153.6 M1156.7,766.2 V854.7 M1152.8,766.2 H1160.6 M1152.8,854.7 H1160.6 M1163.6,772.6 V853.2 M1159.7,772.6 H1167.5 M1159.7,853.2 H1167.5 M1170.5,770.2 V850.1 M1166.6,770.2 H1174.5 M1166.6,850.1 H1174.5 M1177.5,771.3 V858.3 M1173.6,771.3 H1181.4 M1173.6,858.3 H1181.4 M1184.5,770.9 V856.3 M1180.5,770.9 H1188.4 M1180.5,856.3 H1188.4 M1191.4,770.9 V853.6 M1187.5,770.9 H1195.3 M1187.5,853.6 H1195.3 M1198.4,776.1 V851.9 M1194.5,776.1 H1202.3 M1194.5,851.9 H1202.3 M1205.3,773.5 V856.1 M1201.4,773.5 H1209.2 M1201.4,856.1 H1209.2 M1212.2,781.8 V853 M1208.3,781.8 H1216.2 M1208.3,853 H1216.2 M1219.2,781.8 V856.7 M1215.3,781.8 H1223.1 M1215.3,856.7 H1223.1 M1226.2,778.3 V861.1 M1222.2,778.3 H1230.1 M1222.2,861.1 H1230.1 M1233.1,784.7 V864.6 M1229.2,784.7 H1237 M1229.2,864.6 H1237 M1240.1,783.2 V865.3 M1236.2,783.2 H1244 M1236.2,865.3 H1244 M1247,797.4 V865.3 M1243.1,797.4 H1250.9 M1243.1,865.3 H1250.9 M1254,792.2 V860.7 M1250,792.2 H1257.9 M1250,860.7 H1257.9 M1260.9,790.4 V871.4 M1257,790.4 H1264.8 M1257,871.4 H1264.8 M1267.9,790.4 V874.9 M1264,790.4 H1271.8 M1264,874.9 H1271.8 M1274.8,792.6 V871.7 M1270.9,792.6 H1278.7 M1270.9,871.7 H1278.7 M1281.8,793.5 V871.2 M1277.8,793.5 H1285.7 M1277.8,871.2 H1285.7 M1288.7,797.2 V873.9 M1284.8,797.2 H1292.6 M1284.8,873.9 H1292.6 M1295.7,802 V890.1 M1291.8,802 H1299.6 M1291.8,890.1 H1299.6 M1302.6,793.9 V879.1 M1298.7,793.9 H1306.5 M1298.7,879.1 H1306.5 M1309.6,803.6 V881.1 M1305.7,803.6 H1313.5 M1305.7,881.1 H1313.5 M1316.5,803.6 V892.1 M1312.6,803.6 H1320.4 M1312.6,892.1 H1320.4 M1323.5,801.6 V892.1 M1319.5,801.6 H1327.4 M1319.5,892.1 H1327.4 M1330.4,800.7 V885.9 M1326.5,800.7 H1334.3 M1326.5,885.9 H1334.3 M1337.4,794.1 V882.6 M1333.5,794.1 H1341.3 M1333.5,882.6 H1341.3 M1344.3,804 V894.1 M1340.4,804 H1348.2 M1340.4,894.1 H1348.2 M1351.2,801.6 V895.4 M1347.3,801.6 H1355.2 M1347.3,895.4 H1355.2 M1358.2,803.6 V901.3 M1354.3,803.6 H1362.1 M1354.3,901.3 H1362.1 M1365.2,804 V897.3 M1361.2,804 H1369.1 M1361.2,897.3 H1369.1 M1372.1,803.6 V898.7 M1368.2,803.6 H1376 M1368.2,898.7 H1376 M1379.1,802.7 V900.6 M1375.2,802.7 H1383 M1375.2,900.6 H1383 M1386,805.6 V905.5 M1382.1,805.6 H1389.9 M1382.1,905.5 H1389.9 M1393,799.4 V898 M1389,799.4 H1396.9 M1389,898 H1396.9 M1399.9,803.6 V898 M1396,803.6 H1403.8 M1396,898 H1403.8 M1406.9,803.6 V905.9 M1403,803.6 H1410.8 M1403,905.9 H1410.8 M1413.8,800.7 V902 M1409.9,800.7 H1417.7 M1409.9,902 H1417.7 M1420.8,798.1 V895.4 M1416.8,798.1 H1424.7 M1416.8,895.4 H1424.7 M1427.7,802.7 V899.3 M1423.8,802.7 H1431.6 M1423.8,899.3 H1431.6 M1434.7,800.1 V901.3 M1430.8,800.1 H1438.6 M1430.8,901.3 H1438.6 M1441.6,803.8 V912.7 M1437.7,803.8 H1445.5 M1437.7,912.7 H1445.5 M1448.6,802.7 V908.8 M1444.7,802.7 H1452.5 M1444.7,908.8 H1452.5 M1455.5,804.9 V913.4 M1451.6,804.9 H1459.4 M1451.6,913.4 H1459.4 M1462.5,803.6 V905.5 M1458.5,803.6 H1466.4 M1458.5,905.5 H1466.4 M1469.4,806.9 V908.8 M1465.5,806.9 H1473.3 M1465.5,908.8 H1473.3 M1476.3,811.5 V912.1 M1472.4,811.5 H1480.2 M1472.4,912.1 H1480.2 M1483.3,808.8 V912.7 M1479.4,808.8 H1487.2 M1479.4,912.7 H1487.2 M1490.2,812.8 V912.1 M1486.3,812.8 H1494.2 M1486.3,912.1 H1494.2 M1497.2,815.4 V912.7 M1493.3,815.4 H1501.1 M1493.3,912.7 H1501.1 " stroke="#111" stroke-width="1.4" fill="none"/>
<path d="M955.1,752.4 V799.2 M951.2,752.4 H959 M951.2,799.2 H959 M962.1,749.1 V800.3 M958.2,749.1 H966 M958.2,800.3 H966 M969,751.3 V804.7 M965.1,751.3 H972.9 M965.1,804.7 H972.9 M976,750.9 V811 M972.1,750.9 H979.9 M972.1,811 H979.9 M982.9,762.3 V817.9 M979,762.3 H986.8 M979,817.9 H986.8 M989.9,761.2 V820 M986,761.2 H993.8 M986,820 H993.8 M996.8,759 V837.8 M992.9,759 H1000.7 M992.9,837.8 H1000.7 M1003.8,778.3 V841.3 M999.9,778.3 H1007.6 M999.9,841.3 H1007.6 M1010.7,781 V827.1 M1006.8,781 H1014.6 M1006.8,827.1 H1014.6 M1017.7,777.2 V843.3 M1013.8,777.2 H1021.6 M1013.8,843.3 H1021.6 M1024.6,789.5 V845.3 M1020.7,789.5 H1028.5 M1020.7,845.3 H1028.5 M1031.5,773.3 V844.9 M1027.6,773.3 H1035.5 M1027.6,844.9 H1035.5 M1038.5,784.3 V841.3 M1034.6,784.3 H1042.4 M1034.6,841.3 H1042.4 M1045.5,798.5 V844.6 M1041.5,798.5 H1049.4 M1041.5,844.6 H1049.4 M1052.4,795.5 V843.3 M1048.5,795.5 H1056.3 M1048.5,843.3 H1056.3 M1059.4,803.4 V849.5 M1055.5,803.4 H1063.3 M1055.5,849.5 H1063.3 M1066.3,797.6 V843.8 M1062.4,797.6 H1070.2 M1062.4,843.8 H1070.2 M1073.2,800.5 V846.6 M1069.3,800.5 H1077.2 M1069.3,846.6 H1077.2 M1080.2,793.7 V839.8 M1076.3,793.7 H1084.1 M1076.3,839.8 H1084.1 M1087.2,798.5 V844.6 M1083.2,798.5 H1091.1 M1083.2,844.6 H1091.1 M1094.1,797 V843.1 M1090.2,797 H1098 M1090.2,843.1 H1098 M1101,805.8 V851.9 M1097.1,805.8 H1105 M1097.1,851.9 H1105 M1108,809.9 V856.1 M1104.1,809.9 H1111.9 M1104.1,856.1 H1111.9 M1115,805.1 V851.2 M1111,805.1 H1118.9 M1111,851.2 H1118.9 M1121.9,809.9 V856.1 M1118,809.9 H1125.8 M1118,856.1 H1125.8 M1128.9,814.1 V860.2 M1125,814.1 H1132.8 M1125,860.2 H1132.8 M1135.8,814.6 V860.7 M1131.9,814.6 H1139.7 M1131.9,860.7 H1139.7 M1142.8,815.7 V861.8 M1138.8,815.7 H1146.7 M1138.8,861.8 H1146.7 M1149.7,814.6 V860.7 M1145.8,814.6 H1153.6 M1145.8,860.7 H1153.6 M1156.7,828.2 V858.9 M1152.8,828.2 H1160.6 M1152.8,858.9 H1160.6 M1163.6,824.4 V855.2 M1159.7,824.4 H1167.5 M1159.7,855.2 H1167.5 M1170.5,820.5 V851.2 M1166.6,820.5 H1174.5 M1166.6,851.2 H1174.5 M1177.5,833.9 V864.6 M1173.6,833.9 H1181.4 M1173.6,864.6 H1181.4 M1184.5,831 V861.8 M1180.5,831 H1188.4 M1180.5,861.8 H1188.4 M1191.4,824.4 V855.2 M1187.5,824.4 H1195.3 M1187.5,855.2 H1195.3 M1198.4,821.6 V852.3 M1194.5,821.6 H1202.3 M1194.5,852.3 H1202.3 M1205.3,831 V861.8 M1201.4,831 H1209.2 M1201.4,861.8 H1209.2 M1212.2,829.1 V859.8 M1208.3,829.1 H1216.2 M1208.3,859.8 H1216.2 M1219.2,831 V861.8 M1215.3,831 H1223.1 M1215.3,861.8 H1223.1 M1226.2,823.8 V854.5 M1222.2,823.8 H1230.1 M1222.2,854.5 H1230.1 M1233.1,831 V861.8 M1229.2,831 H1237 M1229.2,861.8 H1237 M1240.1,831.9 V862.7 M1236.2,831.9 H1244 M1236.2,862.7 H1244 M1247,831.9 V862.7 M1243.1,831.9 H1250.9 M1243.1,862.7 H1250.9 M1254,830.1 V860.9 M1250,830.1 H1257.9 M1250,860.9 H1257.9 M1260.9,818.7 V849.5 M1257,818.7 H1264.8 M1257,849.5 H1264.8 M1267.9,846.4 V877.1 M1264,846.4 H1271.8 M1264,877.1 H1271.8 M1274.8,837.6 V868.4 M1270.9,837.6 H1278.7 M1270.9,868.4 H1278.7 M1281.8,839.5 V872.5 M1277.8,839.5 H1285.7 M1277.8,872.5 H1285.7 M1288.7,830.9 V863.9 M1284.8,830.9 H1292.6 M1284.8,863.9 H1292.6 M1295.7,830 V862.9 M1291.8,830 H1299.6 M1291.8,862.9 H1299.6 M1302.6,829 V861.9 M1298.7,829 H1306.5 M1298.7,861.9 H1306.5 M1309.6,814.6 V847.6 M1305.7,814.6 H1313.5 M1305.7,847.6 H1313.5 M1316.5,813.7 V846.6 M1312.6,813.7 H1320.4 M1312.6,846.6 H1320.4 M1323.5,827.1 V860 M1319.5,827.1 H1327.4 M1319.5,860 H1327.4 M1330.4,822.3 V855.2 M1326.5,822.3 H1334.3 M1326.5,855.2 H1334.3 M1337.4,827.1 V860 M1333.5,827.1 H1341.3 M1333.5,860 H1341.3 M1344.3,836.7 V869.6 M1340.4,836.7 H1348.2 M1340.4,869.6 H1348.2 M1351.2,825.2 V858.1 M1347.3,825.2 H1355.2 M1347.3,858.1 H1355.2 M1358.2,837.6 V870.6 M1354.3,837.6 H1362.1 M1354.3,870.6 H1362.1 M1365.2,842.4 V875.4 M1361.2,842.4 H1369.1 M1361.2,875.4 H1369.1 M1372.1,829 V861.9 M1368.2,829 H1376 M1368.2,861.9 H1376 M1379.1,832.8 V865.8 M1375.2,832.8 H1383 M1375.2,865.8 H1383 M1386,839.5 V872.5 M1382.1,839.5 H1389.9 M1382.1,872.5 H1389.9 M1393,833.8 V866.7 M1389,833.8 H1396.9 M1389,866.7 H1396.9 M1399.9,845.3 V878.2 M1396,845.3 H1403.8 M1396,878.2 H1403.8 M1406.9,836.7 V869.6 M1403,836.7 H1410.8 M1403,869.6 H1410.8 M1413.8,832.8 V865.8 M1409.9,832.8 H1417.7 M1409.9,865.8 H1417.7 M1420.8,823.3 V856.2 M1416.8,823.3 H1424.7 M1416.8,856.2 H1424.7 M1427.7,834.8 V867.7 M1423.8,834.8 H1431.6 M1423.8,867.7 H1431.6 M1434.7,833.8 V866.7 M1430.8,833.8 H1438.6 M1430.8,866.7 H1438.6 M1441.6,836.7 V869.6 M1437.7,836.7 H1445.5 M1437.7,869.6 H1445.5 M1448.6,832.8 V865.8 M1444.7,832.8 H1452.5 M1444.7,865.8 H1452.5 M1455.5,820.4 V853.3 M1451.6,820.4 H1459.4 M1451.6,853.3 H1459.4 M1462.5,828.1 V861 M1458.5,828.1 H1466.4 M1458.5,861 H1466.4 M1469.4,835.7 V868.7 M1465.5,835.7 H1473.3 M1465.5,868.7 H1473.3 M1476.3,822.3 V855.2 M1472.4,822.3 H1480.2 M1472.4,855.2 H1480.2 M1483.3,832.8 V865.8 M1479.4,832.8 H1487.2 M1479.4,865.8 H1487.2 M1490.2,828.1 V861 M1486.3,828.1 H1494.2 M1486.3,861 H1494.2 M1497.2,835.7 V868.7 M1493.3,835.7 H1501.1 M1493.3,868.7 H1501.1 " stroke="#111" stroke-width="1.4" fill="none"/>
<path d="M871.7,846.4 L878.7,849.7 L885.6,848.4 L892.6,852.5 L899.5,850.8 L906.5,846.4 L913.4,842.7 L920.4,846.4 L927.3,840.9 L934.2,846.4 L941.2,846.4 L948.2,773.3 L955.1,776.1 L962.1,774.4 L969,778.1 L976,782.1 L982.9,801.2 L989.9,802 L996.8,806.9 L1003.8,800.3 L1010.7,804 L1017.7,804.9 L1024.6,804.9 L1031.5,806.9 L1038.5,808.2 L1045.5,807.8 L1052.4,808.2 L1059.4,808.2 L1066.3,808 L1073.2,808 L1080.2,807.8 L1087.2,808 L1094.1,808.6 L1101,811.5 L1108,809.5 L1115,802.5 L1121.9,811.5 L1128.9,806.2 L1135.8,828.8 L1142.8,813.9 L1149.7,812.8 L1156.7,801.4 L1163.6,803.4 L1170.5,803.4 L1177.5,803.4 L1184.5,803.4 L1191.4,804.2 L1198.4,805.1 L1205.3,807.8 L1212.2,816.8 L1219.2,813.9 L1226.2,819.6 L1233.1,824.4 L1240.1,823.6 L1247,830.8 L1254,821.6 L1260.9,827.7 L1267.9,828.2 L1274.8,831 L1281.8,831.1 L1288.7,834.9 L1295.7,842.6 L1302.6,834.9 L1309.6,840.7 L1316.5,846.4 L1323.5,845.5 L1330.4,840.7 L1337.4,836.9 L1344.3,847.4 L1351.2,850.3 L1358.2,852.2 L1365.2,848.4 L1372.1,852.2 L1379.1,852.2 L1386,854.1 L1393,848.4 L1399.9,849.3 L1406.9,854.1 L1413.8,851.2 L1420.8,844.5 L1427.7,852.2 L1434.7,852.2 L1441.6,858.9 L1448.6,857 L1455.5,859.8 L1462.5,854.1 L1469.4,857 L1476.3,861.8 L1483.3,860.8 L1490.2,862.7 L1497.2,863.7" stroke="#111" stroke-width="1.0" fill="none"/>
<path d="M871.7,848.4 L878.7,844.2 L885.6,842 L892.6,843.1 L899.5,844.2 L906.5,847.5 L913.4,850.4 L920.4,848.2 L927.3,847.5 L934.2,844.2 L941.2,846.6 L948.2,814.1 L955.1,788.6 L962.1,774.4 L969,773.9 L976,775.2 L982.9,789.5 L989.9,791.5 L996.8,784.9 L1003.8,799.2 L1010.7,804 L1017.7,810.4 L1024.6,817.4 L1031.5,809.7 L1038.5,811.9 L1045.5,821.6 L1052.4,818.7 L1059.4,826.4 L1066.3,820.7 L1073.2,823.6 L1080.2,816.8 L1087.2,821.6 L1094.1,820 L1101,828.8 L1108,833 L1115,828.2 L1121.9,833 L1128.9,837.2 L1135.8,837.6 L1142.8,838.7 L1149.7,837.6 L1156.7,843.5 L1163.6,839.8 L1170.5,835.9 L1177.5,849.3 L1184.5,846.4 L1191.4,839.8 L1198.4,837 L1205.3,846.4 L1212.2,844.4 L1219.2,846.4 L1226.2,839.2 L1233.1,846.4 L1240.1,847.3 L1247,847.3 L1254,845.5 L1260.9,834.1 L1267.9,861.8 L1274.8,853 L1281.8,856 L1288.7,847.4 L1295.7,846.4 L1302.6,845.5 L1309.6,831.1 L1316.5,830.2 L1323.5,843.6 L1330.4,838.8 L1337.4,843.6 L1344.3,853.1 L1351.2,841.6 L1358.2,854.1 L1365.2,858.9 L1372.1,845.5 L1379.1,849.3 L1386,856 L1393,850.3 L1399.9,861.8 L1406.9,853.1 L1413.8,849.3 L1420.8,839.7 L1427.7,851.2 L1434.7,850.3 L1441.6,853.1 L1448.6,849.3 L1455.5,836.9 L1462.5,844.5 L1469.4,852.2 L1476.3,838.8 L1483.3,849.3 L1490.2,844.5 L1497.2,852.2" stroke="#111" stroke-width="1.0" fill="none"/>
<circle cx="871.7" cy="846.4" r="4.3" fill="none" stroke="#000" stroke-width="1.45"/><circle cx="878.7" cy="849.7" r="4.3" fill="none" stroke="#000" stroke-width="1.45"/><circle cx="885.6" cy="848.4" r="4.3" fill="none" stroke="#000" stroke-width="1.45"/><circle cx="892.6" cy="852.5" r="4.3" fill="none" stroke="#000" stroke-width="1.45"/><circle cx="899.5" cy="850.8" r="4.3" fill="none" stroke="#000" stroke-width="1.45"/><circle cx="906.5" cy="846.4" r="4.3" fill="none" stroke="#000" stroke-width="1.45"/><circle cx="913.4" cy="842.7" r="4.3" fill="none" stroke="#000" stroke-width="1.45"/><circle cx="920.4" cy="846.4" r="4.3" fill="none" stroke="#000" stroke-width="1.45"/><circle cx="927.3" cy="840.9" r="4.3" fill="none" stroke="#000" stroke-width="1.45"/><circle cx="934.2" cy="846.4" r="4.3" fill="none" stroke="#000" stroke-width="1.45"/><circle cx="941.2" cy="846.4" r="4.3" fill="none" stroke="#000" stroke-width="1.45"/><circle cx="948.2" cy="773.3" r="4.3" fill="none" stroke="#000" stroke-width="1.45"/><circle cx="955.1" cy="776.1" r="4.3" fill="none" stroke="#000" stroke-width="1.45"/><circle cx="962.1" cy="774.4" r="4.3" fill="none" stroke="#000" stroke-width="1.45"/><circle cx="969" cy="778.1" r="4.3" fill="none" stroke="#000" stroke-width="1.45"/><circle cx="976" cy="782.1" r="4.3" fill="none" stroke="#000" stroke-width="1.45"/><circle cx="982.9" cy="801.2" r="4.3" fill="none" stroke="#000" stroke-width="1.45"/><circle cx="989.9" cy="802" r="4.3" fill="none" stroke="#000" stroke-width="1.45"/><circle cx="996.8" cy="806.9" r="4.3" fill="none" stroke="#000" stroke-width="1.45"/><circle cx="1003.8" cy="800.3" r="4.3" fill="none" stroke="#000" stroke-width="1.45"/><circle cx="1010.7" cy="804" r="4.3" fill="none" stroke="#000" stroke-width="1.45"/><circle cx="1017.7" cy="804.9" r="4.3" fill="none" stroke="#000" stroke-width="1.45"/><circle cx="1024.6" cy="804.9" r="4.3" fill="none" stroke="#000" stroke-width="1.45"/><circle cx="1031.5" cy="806.9" r="4.3" fill="none" stroke="#000" stroke-width="1.45"/><circle cx="1038.5" cy="808.2" r="4.3" fill="none" stroke="#000" stroke-width="1.45"/><circle cx="1045.5" cy="807.8" r="4.3" fill="none" stroke="#000" stroke-width="1.45"/><circle cx="1052.4" cy="808.2" r="4.3" fill="none" stroke="#000" stroke-width="1.45"/><circle cx="1059.4" cy="808.2" r="4.3" fill="none" stroke="#000" stroke-width="1.45"/><circle cx="1066.3" cy="808" r="4.3" fill="none" stroke="#000" stroke-width="1.45"/><circle cx="1073.2" cy="808" r="4.3" fill="none" stroke="#000" stroke-width="1.45"/><circle cx="1080.2" cy="807.8" r="4.3" fill="none" stroke="#000" stroke-width="1.45"/><circle cx="1087.2" cy="808" r="4.3" fill="none" stroke="#000" stroke-width="1.45"/><circle cx="1094.1" cy="808.6" r="4.3" fill="none" stroke="#000" stroke-width="1.45"/><circle cx="1101" cy="811.5" r="4.3" fill="none" stroke="#000" stroke-width="1.45"/><circle cx="1108" cy="809.5" r="4.3" fill="none" stroke="#000" stroke-width="1.45"/><circle cx="1115" cy="802.5" r="4.3" fill="none" stroke="#000" stroke-width="1.45"/><circle cx="1121.9" cy="811.5" r="4.3" fill="none" stroke="#000" stroke-width="1.45"/><circle cx="1128.9" cy="806.2" r="4.3" fill="none" stroke="#000" stroke-width="1.45"/><circle cx="1135.8" cy="828.8" r="4.3" fill="none" stroke="#000" stroke-width="1.45"/><circle cx="1142.8" cy="813.9" r="4.3" fill="none" stroke="#000" stroke-width="1.45"/><circle cx="1149.7" cy="812.8" r="4.3" fill="none" stroke="#000" stroke-width="1.45"/><circle cx="1156.7" cy="801.4" r="4.3" fill="none" stroke="#000" stroke-width="1.45"/><circle cx="1163.6" cy="803.4" r="4.3" fill="none" stroke="#000" stroke-width="1.45"/><circle cx="1170.5" cy="803.4" r="4.3" fill="none" stroke="#000" stroke-width="1.45"/><circle cx="1177.5" cy="803.4" r="4.3" fill="none" stroke="#000" stroke-width="1.45"/><circle cx="1184.5" cy="803.4" r="4.3" fill="none" stroke="#000" stroke-width="1.45"/><circle cx="1191.4" cy="804.2" r="4.3" fill="none" stroke="#000" stroke-width="1.45"/><circle cx="1198.4" cy="805.1" r="4.3" fill="none" stroke="#000" stroke-width="1.45"/><circle cx="1205.3" cy="807.8" r="4.3" fill="none" stroke="#000" stroke-width="1.45"/><circle cx="1212.2" cy="816.8" r="4.3" fill="none" stroke="#000" stroke-width="1.45"/><circle cx="1219.2" cy="813.9" r="4.3" fill="none" stroke="#000" stroke-width="1.45"/><circle cx="1226.2" cy="819.6" r="4.3" fill="none" stroke="#000" stroke-width="1.45"/><circle cx="1233.1" cy="824.4" r="4.3" fill="none" stroke="#000" stroke-width="1.45"/><circle cx="1240.1" cy="823.6" r="4.3" fill="none" stroke="#000" stroke-width="1.45"/><circle cx="1247" cy="830.8" r="4.3" fill="none" stroke="#000" stroke-width="1.45"/><circle cx="1254" cy="821.6" r="4.3" fill="none" stroke="#000" stroke-width="1.45"/><circle cx="1260.9" cy="827.7" r="4.3" fill="none" stroke="#000" stroke-width="1.45"/><circle cx="1267.9" cy="828.2" r="4.3" fill="none" stroke="#000" stroke-width="1.45"/><circle cx="1274.8" cy="831" r="4.3" fill="none" stroke="#000" stroke-width="1.45"/><circle cx="1281.8" cy="831.1" r="4.3" fill="none" stroke="#000" stroke-width="1.45"/><circle cx="1288.7" cy="834.9" r="4.3" fill="none" stroke="#000" stroke-width="1.45"/><circle cx="1295.7" cy="842.6" r="4.3" fill="none" stroke="#000" stroke-width="1.45"/><circle cx="1302.6" cy="834.9" r="4.3" fill="none" stroke="#000" stroke-width="1.45"/><circle cx="1309.6" cy="840.7" r="4.3" fill="none" stroke="#000" stroke-width="1.45"/><circle cx="1316.5" cy="846.4" r="4.3" fill="none" stroke="#000" stroke-width="1.45"/><circle cx="1323.5" cy="845.5" r="4.3" fill="none" stroke="#000" stroke-width="1.45"/><circle cx="1330.4" cy="840.7" r="4.3" fill="none" stroke="#000" stroke-width="1.45"/><circle cx="1337.4" cy="836.9" r="4.3" fill="none" stroke="#000" stroke-width="1.45"/><circle cx="1344.3" cy="847.4" r="4.3" fill="none" stroke="#000" stroke-width="1.45"/><circle cx="1351.2" cy="850.3" r="4.3" fill="none" stroke="#000" stroke-width="1.45"/><circle cx="1358.2" cy="852.2" r="4.3" fill="none" stroke="#000" stroke-width="1.45"/><circle cx="1365.2" cy="848.4" r="4.3" fill="none" stroke="#000" stroke-width="1.45"/><circle cx="1372.1" cy="852.2" r="4.3" fill="none" stroke="#000" stroke-width="1.45"/><circle cx="1379.1" cy="852.2" r="4.3" fill="none" stroke="#000" stroke-width="1.45"/><circle cx="1386" cy="854.1" r="4.3" fill="none" stroke="#000" stroke-width="1.45"/><circle cx="1393" cy="848.4" r="4.3" fill="none" stroke="#000" stroke-width="1.45"/><circle cx="1399.9" cy="849.3" r="4.3" fill="none" stroke="#000" stroke-width="1.45"/><circle cx="1406.9" cy="854.1" r="4.3" fill="none" stroke="#000" stroke-width="1.45"/><circle cx="1413.8" cy="851.2" r="4.3" fill="none" stroke="#000" stroke-width="1.45"/><circle cx="1420.8" cy="844.5" r="4.3" fill="none" stroke="#000" stroke-width="1.45"/><circle cx="1427.7" cy="852.2" r="4.3" fill="none" stroke="#000" stroke-width="1.45"/><circle cx="1434.7" cy="852.2" r="4.3" fill="none" stroke="#000" stroke-width="1.45"/><circle cx="1441.6" cy="858.9" r="4.3" fill="none" stroke="#000" stroke-width="1.45"/><circle cx="1448.6" cy="857" r="4.3" fill="none" stroke="#000" stroke-width="1.45"/><circle cx="1455.5" cy="859.8" r="4.3" fill="none" stroke="#000" stroke-width="1.45"/><circle cx="1462.5" cy="854.1" r="4.3" fill="none" stroke="#000" stroke-width="1.45"/><circle cx="1469.4" cy="857" r="4.3" fill="none" stroke="#000" stroke-width="1.45"/><circle cx="1476.3" cy="861.8" r="4.3" fill="none" stroke="#000" stroke-width="1.45"/><circle cx="1483.3" cy="860.8" r="4.3" fill="none" stroke="#000" stroke-width="1.45"/><circle cx="1490.2" cy="862.7" r="4.3" fill="none" stroke="#000" stroke-width="1.45"/><circle cx="1497.2" cy="863.7" r="4.3" fill="none" stroke="#000" stroke-width="1.45"/>
<circle cx="871.7" cy="848.4" r="4.9" fill="#000"/><circle cx="878.7" cy="844.2" r="4.9" fill="#000"/><circle cx="885.6" cy="842" r="4.9" fill="#000"/><circle cx="892.6" cy="843.1" r="4.9" fill="#000"/><circle cx="899.5" cy="844.2" r="4.9" fill="#000"/><circle cx="906.5" cy="847.5" r="4.9" fill="#000"/><circle cx="913.4" cy="850.4" r="4.9" fill="#000"/><circle cx="920.4" cy="848.2" r="4.9" fill="#000"/><circle cx="927.3" cy="847.5" r="4.9" fill="#000"/><circle cx="934.2" cy="844.2" r="4.9" fill="#000"/><circle cx="941.2" cy="846.6" r="4.9" fill="#000"/><circle cx="948.2" cy="814.1" r="4.9" fill="#000"/><circle cx="955.1" cy="788.6" r="4.9" fill="#000"/><circle cx="962.1" cy="774.4" r="4.9" fill="#000"/><circle cx="969" cy="773.9" r="4.9" fill="#000"/><circle cx="976" cy="775.2" r="4.9" fill="#000"/><circle cx="982.9" cy="789.5" r="4.9" fill="#000"/><circle cx="989.9" cy="791.5" r="4.9" fill="#000"/><circle cx="996.8" cy="784.9" r="4.9" fill="#000"/><circle cx="1003.8" cy="799.2" r="4.9" fill="#000"/><circle cx="1010.7" cy="804" r="4.9" fill="#000"/><circle cx="1017.7" cy="810.4" r="4.9" fill="#000"/><circle cx="1024.6" cy="817.4" r="4.9" fill="#000"/><circle cx="1031.5" cy="809.7" r="4.9" fill="#000"/><circle cx="1038.5" cy="811.9" r="4.9" fill="#000"/><circle cx="1045.5" cy="821.6" r="4.9" fill="#000"/><circle cx="1052.4" cy="818.7" r="4.9" fill="#000"/><circle cx="1059.4" cy="826.4" r="4.9" fill="#000"/><circle cx="1066.3" cy="820.7" r="4.9" fill="#000"/><circle cx="1073.2" cy="823.6" r="4.9" fill="#000"/><circle cx="1080.2" cy="816.8" r="4.9" fill="#000"/><circle cx="1087.2" cy="821.6" r="4.9" fill="#000"/><circle cx="1094.1" cy="820" r="4.9" fill="#000"/><circle cx="1101" cy="828.8" r="4.9" fill="#000"/><circle cx="1108" cy="833" r="4.9" fill="#000"/><circle cx="1115" cy="828.2" r="4.9" fill="#000"/><circle cx="1121.9" cy="833" r="4.9" fill="#000"/><circle cx="1128.9" cy="837.2" r="4.9" fill="#000"/><circle cx="1135.8" cy="837.6" r="4.9" fill="#000"/><circle cx="1142.8" cy="838.7" r="4.9" fill="#000"/><circle cx="1149.7" cy="837.6" r="4.9" fill="#000"/><circle cx="1156.7" cy="843.5" r="4.9" fill="#000"/><circle cx="1163.6" cy="839.8" r="4.9" fill="#000"/><circle cx="1170.5" cy="835.9" r="4.9" fill="#000"/><circle cx="1177.5" cy="849.3" r="4.9" fill="#000"/><circle cx="1184.5" cy="846.4" r="4.9" fill="#000"/><circle cx="1191.4" cy="839.8" r="4.9" fill="#000"/><circle cx="1198.4" cy="837" r="4.9" fill="#000"/><circle cx="1205.3" cy="846.4" r="4.9" fill="#000"/><circle cx="1212.2" cy="844.4" r="4.9" fill="#000"/><circle cx="1219.2" cy="846.4" r="4.9" fill="#000"/><circle cx="1226.2" cy="839.2" r="4.9" fill="#000"/><circle cx="1233.1" cy="846.4" r="4.9" fill="#000"/><circle cx="1240.1" cy="847.3" r="4.9" fill="#000"/><circle cx="1247" cy="847.3" r="4.9" fill="#000"/><circle cx="1254" cy="845.5" r="4.9" fill="#000"/><circle cx="1260.9" cy="834.1" r="4.9" fill="#000"/><circle cx="1267.9" cy="861.8" r="4.9" fill="#000"/><circle cx="1274.8" cy="853" r="4.9" fill="#000"/><circle cx="1281.8" cy="856" r="4.9" fill="#000"/><circle cx="1288.7" cy="847.4" r="4.9" fill="#000"/><circle cx="1295.7" cy="846.4" r="4.9" fill="#000"/><circle cx="1302.6" cy="845.5" r="4.9" fill="#000"/><circle cx="1309.6" cy="831.1" r="4.9" fill="#000"/><circle cx="1316.5" cy="830.2" r="4.9" fill="#000"/><circle cx="1323.5" cy="843.6" r="4.9" fill="#000"/><circle cx="1330.4" cy="838.8" r="4.9" fill="#000"/><circle cx="1337.4" cy="843.6" r="4.9" fill="#000"/><circle cx="1344.3" cy="853.1" r="4.9" fill="#000"/><circle cx="1351.2" cy="841.6" r="4.9" fill="#000"/><circle cx="1358.2" cy="854.1" r="4.9" fill="#000"/><circle cx="1365.2" cy="858.9" r="4.9" fill="#000"/><circle cx="1372.1" cy="845.5" r="4.9" fill="#000"/><circle cx="1379.1" cy="849.3" r="4.9" fill="#000"/><circle cx="1386" cy="856" r="4.9" fill="#000"/><circle cx="1393" cy="850.3" r="4.9" fill="#000"/><circle cx="1399.9" cy="861.8" r="4.9" fill="#000"/><circle cx="1406.9" cy="853.1" r="4.9" fill="#000"/><circle cx="1413.8" cy="849.3" r="4.9" fill="#000"/><circle cx="1420.8" cy="839.7" r="4.9" fill="#000"/><circle cx="1427.7" cy="851.2" r="4.9" fill="#000"/><circle cx="1434.7" cy="850.3" r="4.9" fill="#000"/><circle cx="1441.6" cy="853.1" r="4.9" fill="#000"/><circle cx="1448.6" cy="849.3" r="4.9" fill="#000"/><circle cx="1455.5" cy="836.9" r="4.9" fill="#000"/><circle cx="1462.5" cy="844.5" r="4.9" fill="#000"/><circle cx="1469.4" cy="852.2" r="4.9" fill="#000"/><circle cx="1476.3" cy="838.8" r="4.9" fill="#000"/><circle cx="1483.3" cy="849.3" r="4.9" fill="#000"/><circle cx="1490.2" cy="844.5" r="4.9" fill="#000"/><circle cx="1497.2" cy="852.2" r="4.9" fill="#000"/>
<path d="M545.1,566.5 H581.3 M545.1,613 H581.3" stroke="#111" stroke-width="1.7"/>
<path d="M562.2,560.6 l5.7,5.9 l-5.7,5.9 l-5.7,-5.9 Z" fill="none" stroke="#000" stroke-width="1.5"/>
<path d="M562.2,606.9 l6.2,6.1 l-6.2,6.1 l-6.2,-6.1 Z" fill="#000"/>
<text x="600.4" y="576.2" font-size="27" textLength="169.3" lengthAdjust="spacingAndGlyphs">Control Young</text>
<text x="600.6" y="621.8" font-size="27" textLength="158.6" lengthAdjust="spacingAndGlyphs">Stress Young</text>
<path d="M1276,571.5 H1312.1 M1276,615.8 H1312.1" stroke="#111" stroke-width="1.7"/>
<circle cx="1294.2" cy="571.5" r="4.7" fill="none" stroke="#000" stroke-width="1.5"/>
<circle cx="1294.2" cy="615.8" r="5.3" fill="#000"/>
<text x="1332" y="579.2" font-size="27" textLength="153.2" lengthAdjust="spacingAndGlyphs">Control Aged</text>
<text x="1332" y="624.8" font-size="27" textLength="142.6" lengthAdjust="spacingAndGlyphs">Stress Aged</text>
</svg></body></html>
